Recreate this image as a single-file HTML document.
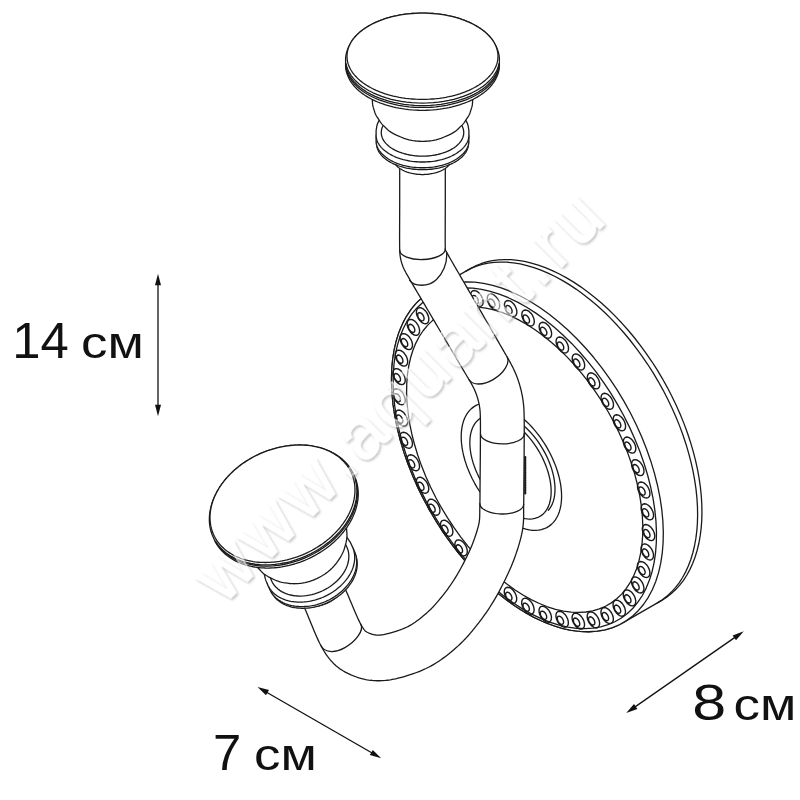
<!DOCTYPE html>
<html><head><meta charset="utf-8"><title>hook</title>
<style>
html,body{margin:0;padding:0;background:#fff;}
svg{display:block}
.dig{font-family:"Liberation Sans",sans-serif;font-size:50.8px;fill:#111;}
.unit{font-family:"Liberation Sans",sans-serif;font-size:45.2px;fill:#111;}
.wm{font-family:"Liberation Sans",sans-serif;font-size:72px;}
path{stroke-linecap:round;stroke-linejoin:round}
</style></head><body>
<svg width="800" height="800" viewBox="0 0 800 800">
<rect width="800" height="800" fill="#fff"/>
<path d="M470.27,268.66 L475.46,265.97 L480.88,263.74 L486.55,261.98 L492.43,260.7 L498.51,259.89 L504.77,259.56 L511.21,259.71 L517.79,260.34 L524.51,261.44 L531.34,263.02 L538.27,265.08 L545.27,267.59 L552.33,270.56 L559.42,273.98 L566.54,277.84 L573.65,282.14 L580.74,286.84 L587.79,291.96 L594.79,297.46 L601.7,303.34 L608.52,309.58 L615.21,316.16 L621.78,323.07 L628.19,330.28 L634.43,337.77 L640.48,345.54 L646.33,353.54 L651.96,361.77 L657.36,370.2 L662.5,378.8 L667.38,387.56 L671.98,396.44 L676.29,405.43 L680.3,414.5 L683.99,423.62 L687.37,432.77 L690.41,441.93 L693.1,451.07 L695.45,460.16 L697.45,469.18 L699.08,478.11 L700.36,486.92 L701.26,495.58 L701.79,504.08 L701.95,512.38 L701.74,520.48 L701.15,528.33 L700.19,535.93 L698.87,543.25 L697.18,550.27 L695.14,556.98 L692.74,563.35 L689.99,569.37 L686.9,575.01 L683.48,580.28 L679.74,585.14 L675.69,589.59 L671.33,593.61 L666.69,597.2 L661.77,600.34 L623.15,622.64 L623.15,622.64 L617.97,625.33 L612.54,627.56 L606.88,629.32 L601,630.6 L594.92,631.41 L588.65,631.74 L582.22,631.59 L575.63,630.96 L568.92,629.86 L562.08,628.27 L555.16,626.22 L548.16,623.71 L541.1,620.74 L534,617.32 L526.89,613.46 L519.77,609.16 L512.68,604.46 L505.63,599.34 L498.64,593.84 L491.72,587.96 L484.91,581.72 L478.21,575.14 L471.65,568.23 L465.23,561.02 L458.99,553.53 L452.94,545.76 L447.09,537.76 L441.46,529.53 L436.07,521.1 L430.92,512.5 L426.05,503.74 L421.44,494.86 L417.13,485.87 L413.13,476.8 L409.43,467.68 L406.06,458.53 L403.02,449.37 L400.32,440.23 L397.97,431.14 L395.97,422.12 L394.34,413.19 L393.07,404.38 L392.17,395.72 L391.64,387.22 L391.48,378.92 L391.69,370.82 L392.27,362.97 L393.23,355.37 L394.55,348.05 L396.24,341.03 L398.29,334.32 L400.69,327.95 L403.44,321.93 L406.52,316.29 L409.94,311.02 L413.68,306.16 L417.74,301.71 L422.09,297.69 L426.73,294.1 L431.65,290.96Z" fill="#fff" stroke="#1a1a1a" stroke-width="1.3" />
<path d="M465.94,271.16 L471.12,268.47 L476.55,266.24 L482.22,264.48 L488.1,263.2 L494.18,262.39 L500.44,262.06 L506.88,262.21 L513.46,262.84 L520.18,263.94 L527.01,265.52 L533.94,267.58 L540.94,270.09 L548,273.06 L555.09,276.48 L562.21,280.34 L569.32,284.64 L576.41,289.34 L583.46,294.46 L590.46,299.96 L597.37,305.84 L604.19,312.08 L610.88,318.66 L617.45,325.57 L623.86,332.78 L630.1,340.27 L636.15,348.04 L642,356.04 L647.63,364.27 L653.03,372.7 L658.17,381.3 L663.05,390.06 L667.65,398.94 L671.96,407.93 L675.97,417 L679.66,426.12 L683.04,435.27 L686.08,444.43 L688.77,453.57 L691.12,462.66 L693.12,471.68 L694.75,480.61 L696.03,489.42 L696.93,498.08 L697.46,506.58 L697.62,514.88 L697.41,522.98 L696.82,530.83 L695.86,538.43 L694.54,545.75 L692.85,552.77 L690.81,559.48 L688.41,565.85 L685.66,571.87 L682.57,577.51 L679.15,582.78 L675.41,587.64 L671.36,592.09 L667,596.11 L662.36,599.7 L657.44,602.84" fill="none" stroke="#1a1a1a" stroke-width="1.3" />
<path d="M623.88,401.1 L630.32,412.8 L636.26,424.72 L641.67,436.8 L646.53,448.97 L650.81,461.18 L654.48,473.37 L657.53,485.48 L659.96,497.45 L661.73,509.22 L662.85,520.73 L663.31,531.94 L663.11,542.78 L662.25,553.19 L660.73,563.14 L658.56,572.58 L655.75,581.44 L652.32,589.7 L648.28,597.31 L643.65,604.24 L638.45,610.45 L632.71,615.91 L626.46,620.6 L619.72,624.49 L612.54,627.56 L604.94,629.8 L596.97,631.19 L588.65,631.74 L580.04,631.43 L571.17,630.28 L562.08,628.27 L552.83,625.44 L543.46,621.78 L534,617.32 L524.52,612.07 L515.04,606.07 L505.63,599.34 L496.32,591.92 L487.17,583.84 L478.21,575.14 L469.49,565.86 L461.05,556.06 L452.94,545.76 L445.19,535.04 L437.84,523.93 L430.92,512.5 L424.48,500.8 L418.54,488.88 L413.13,476.8 L408.27,464.63 L403.99,452.42 L400.32,440.23 L397.27,428.12 L394.84,416.15 L393.07,404.38 L391.95,392.87 L391.49,381.66 L391.69,370.82 L392.55,360.41 L394.07,350.46 L396.24,341.03 L399.05,332.16 L402.48,323.9 L406.52,316.29 L411.15,309.36 L416.35,303.15 L422.09,297.69 L428.34,293 L435.08,289.11 L442.26,286.04 L449.86,283.8 L457.83,282.41 L466.15,281.86 L474.76,282.17 L483.63,283.32 L492.72,285.32 L501.97,288.16 L511.34,291.82 L520.8,296.28 L530.28,301.53 L539.76,307.53 L549.17,314.26 L558.48,321.68 L567.63,329.76 L576.59,338.46 L585.31,347.74 L593.75,357.54 L601.86,367.84 L609.61,378.56 L616.96,389.67 L623.88,401.1Z" fill="#fff" stroke="#1a1a1a" stroke-width="1.3" />
<path d="M617.64,404.6 L623.93,416.02 L629.73,427.64 L635.03,439.41 L639.79,451.27 L643.98,463.16 L647.6,475.03 L650.62,486.82 L653.03,498.47 L654.81,509.92 L655.95,521.13 L656.46,532.02 L656.33,542.56 L655.56,552.68 L654.15,562.34 L652.11,571.5 L649.44,580.1 L646.18,588.11 L642.32,595.49 L637.89,602.2 L632.9,608.21 L627.39,613.48 L621.38,618 L614.9,621.75 L607.98,624.69 L600.66,626.82 L592.97,628.14 L584.94,628.62 L576.62,628.27 L568.05,627.1 L559.27,625.1 L550.32,622.29 L541.24,618.68 L532.09,614.29 L522.9,609.13 L513.72,603.25 L504.59,596.65 L495.56,589.38 L486.68,581.47 L477.98,572.97 L469.51,563.9 L461.3,554.31 L453.41,544.26 L445.86,533.79 L438.7,522.95 L431.96,511.8 L425.67,500.38 L419.87,488.76 L414.57,476.99 L409.81,465.13 L405.62,453.24 L402,441.37 L398.98,429.58 L396.57,417.93 L394.79,406.48 L393.65,395.27 L393.14,384.38 L393.27,373.84 L394.04,363.72 L395.45,354.06 L397.49,344.9 L400.16,336.3 L403.42,328.29 L407.28,320.91 L411.71,314.2 L416.7,308.19 L422.21,302.92 L428.22,298.4 L434.7,294.65 L441.62,291.71 L448.94,289.58 L456.63,288.26 L464.66,287.78 L472.98,288.13 L481.55,289.3 L490.33,291.3 L499.28,294.11 L508.36,297.72 L517.51,302.11 L526.7,307.27 L535.88,313.15 L545.01,319.75 L554.04,327.02 L562.92,334.93 L571.62,343.43 L580.09,352.5 L588.3,362.09 L596.19,372.14 L603.74,382.61 L610.9,393.45 L617.64,404.6Z" fill="none" stroke="#1a1a1a" stroke-width="1.3" />
<path d="M608.01,411.5 L613.65,421.74 L618.86,432.16 L623.6,442.71 L627.87,453.35 L631.63,464.01 L634.87,474.66 L637.58,485.23 L639.73,495.68 L641.33,505.95 L642.35,516 L642.81,525.77 L642.68,535.21 L641.99,544.29 L640.72,552.96 L638.89,561.17 L636.5,568.89 L633.56,576.08 L630.1,582.7 L626.12,588.71 L621.64,594.1 L616.7,598.84 L611.31,602.89 L605.49,606.25 L599.28,608.89 L592.71,610.81 L585.81,611.99 L578.61,612.42 L571.14,612.12 L563.45,611.06 L555.57,609.28 L547.54,606.76 L539.4,603.52 L531.19,599.59 L522.95,594.97 L514.71,589.69 L506.53,583.78 L498.43,577.26 L490.46,570.17 L482.66,562.54 L475.06,554.41 L467.7,545.82 L460.62,536.81 L453.85,527.42 L447.43,517.7 L441.39,507.7 L435.75,497.46 L430.54,487.04 L425.8,476.49 L421.53,465.85 L417.77,455.19 L414.53,444.54 L411.82,433.97 L409.67,423.52 L408.07,413.25 L407.05,403.2 L406.59,393.43 L406.72,383.99 L407.41,374.91 L408.68,366.24 L410.51,358.03 L412.9,350.31 L415.84,343.12 L419.3,336.5 L423.28,330.49 L427.76,325.1 L432.7,320.36 L438.09,316.31 L443.91,312.95 L450.12,310.31 L456.69,308.39 L463.59,307.21 L470.79,306.78 L478.26,307.08 L485.95,308.14 L493.83,309.93 L501.86,312.44 L510,315.68 L518.21,319.61 L526.45,324.23 L534.69,329.51 L542.87,335.42 L550.97,341.94 L558.94,349.03 L566.74,356.66 L574.34,364.79 L581.7,373.38 L588.78,382.39 L595.55,391.78 L601.97,401.5 L608.01,411.5Z" fill="none" stroke="#1a1a1a" stroke-width="1.3" />
<path d="M623.8,420.25 L624.94,422.73 L625.54,425.22 L625.53,427.47 L624.92,429.27 L623.76,430.43 L622.18,430.85 L620.32,430.48 L618.36,429.36 L616.51,427.6 L614.93,425.37 L613.79,422.89 L613.19,420.41 L613.2,418.15 L613.81,416.36 L614.96,415.19 L616.55,414.77 L618.41,415.14 L620.36,416.26 L622.22,418.02Z M619.9,422.5 L620.48,423.77 L620.79,425.05 L620.79,426.2 L620.47,427.12 L619.88,427.71 L619.07,427.92 L618.12,427.74 L617.12,427.16 L616.17,426.26 L615.37,425.12 L614.78,423.85 L614.48,422.58 L614.48,421.43 L614.79,420.51 L615.38,419.92 L616.19,419.7 L617.14,419.89 L618.14,420.46 L619.09,421.36Z M634.03,442.52 L635.17,445 L635.77,447.49 L635.76,449.74 L635.15,451.53 L634,452.7 L632.41,453.12 L630.55,452.75 L628.6,451.63 L626.74,449.87 L625.16,447.64 L624.02,445.16 L623.43,442.67 L623.43,440.42 L624.04,438.62 L625.2,437.46 L626.78,437.04 L628.64,437.41 L630.6,438.53 L632.45,440.29Z M630.13,444.77 L630.72,446.04 L631.02,447.31 L631.02,448.46 L630.71,449.38 L630.12,449.97 L629.31,450.19 L628.35,450 L627.35,449.43 L626.41,448.53 L625.6,447.39 L625.01,446.12 L624.71,444.84 L624.71,443.69 L625.03,442.77 L625.62,442.18 L626.43,441.97 L627.38,442.15 L628.38,442.73 L629.33,443.63Z M642.2,465.06 L643.35,467.54 L643.94,470.03 L643.93,472.28 L643.32,474.08 L642.17,475.24 L640.58,475.66 L638.72,475.29 L636.77,474.17 L634.91,472.41 L633.34,470.18 L632.19,467.7 L631.6,465.21 L631.6,462.96 L632.21,461.16 L633.37,460 L634.95,459.58 L636.82,459.95 L638.77,461.07 L640.63,462.83Z M638.3,467.31 L638.89,468.58 L639.19,469.85 L639.19,471 L638.88,471.92 L638.29,472.52 L637.48,472.73 L636.52,472.54 L635.53,471.97 L634.58,471.07 L633.77,469.93 L633.19,468.66 L632.88,467.39 L632.88,466.24 L633.2,465.32 L633.79,464.72 L634.6,464.51 L635.55,464.7 L636.55,465.27 L637.5,466.17Z M648.15,487.45 L649.29,489.93 L649.89,492.42 L649.88,494.67 L649.27,496.46 L648.12,497.63 L646.53,498.05 L644.67,497.68 L642.72,496.56 L640.86,494.8 L639.29,492.57 L638.14,490.09 L637.55,487.6 L637.55,485.35 L638.16,483.55 L639.32,482.39 L640.9,481.97 L642.76,482.34 L644.72,483.46 L646.58,485.22Z M644.25,489.7 L644.84,490.97 L645.14,492.24 L645.14,493.39 L644.83,494.31 L644.24,494.9 L643.43,495.12 L642.47,494.93 L641.48,494.36 L640.53,493.46 L639.72,492.32 L639.14,491.05 L638.83,489.78 L638.83,488.62 L639.15,487.71 L639.74,487.11 L640.55,486.9 L641.5,487.09 L642.5,487.66 L643.45,488.56Z M651.76,509.24 L652.91,511.72 L653.5,514.21 L653.5,516.46 L652.89,518.26 L651.73,519.42 L650.15,519.84 L648.28,519.47 L646.33,518.35 L644.47,516.59 L642.9,514.36 L641.75,511.88 L641.16,509.39 L641.17,507.14 L641.78,505.34 L642.93,504.18 L644.52,503.76 L646.38,504.13 L648.33,505.25 L650.19,507.01Z M647.87,511.49 L648.45,512.76 L648.76,514.03 L648.75,515.19 L648.44,516.1 L647.85,516.7 L647.04,516.91 L646.09,516.72 L645.09,516.15 L644.14,515.25 L643.33,514.11 L642.75,512.84 L642.44,511.57 L642.45,510.42 L642.76,509.5 L643.35,508.9 L644.16,508.69 L645.11,508.88 L646.11,509.45 L647.06,510.35Z M652.97,530.02 L654.11,532.5 L654.71,534.99 L654.7,537.24 L654.09,539.04 L652.93,540.2 L651.35,540.62 L649.49,540.25 L647.53,539.13 L645.68,537.37 L644.1,535.14 L642.96,532.66 L642.36,530.17 L642.37,527.92 L642.98,526.12 L644.13,524.96 L645.72,524.54 L647.58,524.91 L649.54,526.03 L651.39,527.79Z M649.07,532.27 L649.65,533.54 L649.96,534.81 L649.96,535.96 L649.64,536.88 L649.05,537.48 L648.24,537.69 L647.29,537.5 L646.29,536.93 L645.34,536.03 L644.54,534.89 L643.95,533.62 L643.65,532.35 L643.65,531.2 L643.96,530.28 L644.55,529.68 L645.36,529.47 L646.32,529.66 L647.31,530.23 L648.26,531.13Z M651.74,549.38 L652.88,551.86 L653.48,554.34 L653.47,556.6 L652.86,558.39 L651.71,559.56 L650.12,559.97 L648.26,559.6 L646.31,558.49 L644.45,556.72 L642.87,554.49 L641.73,552.01 L641.13,549.53 L641.14,547.27 L641.75,545.48 L642.91,544.31 L644.49,543.9 L646.35,544.26 L648.31,545.38 L650.16,547.15Z M647.84,551.63 L648.43,552.89 L648.73,554.17 L648.73,555.32 L648.42,556.24 L647.83,556.83 L647.02,557.05 L646.06,556.86 L645.06,556.28 L644.11,555.38 L643.31,554.24 L642.72,552.98 L642.42,551.7 L642.42,550.55 L642.74,549.63 L643.33,549.04 L644.14,548.82 L645.09,549.01 L646.09,549.59 L647.04,550.49Z M648.11,566.93 L649.25,569.41 L649.85,571.9 L649.84,574.15 L649.23,575.95 L648.07,577.11 L646.49,577.53 L644.63,577.16 L642.67,576.04 L640.82,574.28 L639.24,572.05 L638.1,569.57 L637.5,567.08 L637.51,564.83 L638.12,563.04 L639.27,561.87 L640.86,561.45 L642.72,561.82 L644.67,562.94 L646.53,564.7Z M644.21,569.18 L644.79,570.45 L645.1,571.72 L645.09,572.88 L644.78,573.79 L644.19,574.39 L643.38,574.6 L642.43,574.41 L641.43,573.84 L640.48,572.94 L639.67,571.8 L639.09,570.53 L638.78,569.26 L638.79,568.11 L639.1,567.19 L639.69,566.6 L640.5,566.38 L641.45,566.57 L642.45,567.14 L643.4,568.04Z M642.14,582.35 L643.28,584.83 L643.88,587.32 L643.87,589.57 L643.26,591.37 L642.1,592.53 L640.52,592.95 L638.66,592.58 L636.7,591.46 L634.85,589.7 L633.27,587.47 L632.13,584.99 L631.53,582.5 L631.54,580.25 L632.15,578.45 L633.3,577.29 L634.89,576.87 L636.75,577.24 L638.7,578.36 L640.56,580.12Z M638.24,584.6 L638.82,585.87 L639.13,587.14 L639.12,588.29 L638.81,589.21 L638.22,589.81 L637.41,590.02 L636.46,589.83 L635.46,589.26 L634.51,588.36 L633.7,587.22 L633.12,585.95 L632.81,584.68 L632.82,583.53 L633.13,582.61 L633.72,582.01 L634.53,581.8 L635.48,581.99 L636.48,582.56 L637.43,583.46Z M633.94,595.33 L635.09,597.81 L635.68,600.3 L635.68,602.55 L635.07,604.35 L633.91,605.51 L632.33,605.93 L630.46,605.56 L628.51,604.44 L626.65,602.68 L625.08,600.45 L623.93,597.97 L623.34,595.48 L623.35,593.23 L623.96,591.43 L625.11,590.27 L626.7,589.85 L628.56,590.22 L630.51,591.34 L632.37,593.1Z M630.05,597.58 L630.63,598.85 L630.94,600.12 L630.93,601.27 L630.62,602.19 L630.03,602.79 L629.22,603 L628.27,602.81 L627.27,602.24 L626.32,601.34 L625.51,600.2 L624.93,598.93 L624.62,597.66 L624.63,596.5 L624.94,595.59 L625.53,594.99 L626.34,594.78 L627.29,594.97 L628.29,595.54 L629.24,596.44Z M623.69,605.61 L624.83,608.09 L625.43,610.58 L625.42,612.83 L624.81,614.63 L623.66,615.79 L622.07,616.21 L620.21,615.84 L618.26,614.72 L616.4,612.96 L614.83,610.73 L613.68,608.25 L613.09,605.76 L613.09,603.51 L613.7,601.72 L614.86,600.55 L616.44,600.13 L618.3,600.5 L620.26,601.62 L622.12,603.38Z M619.79,607.86 L620.38,609.13 L620.68,610.41 L620.68,611.56 L620.37,612.48 L619.78,613.07 L618.97,613.28 L618.01,613.1 L617.01,612.52 L616.07,611.62 L615.26,610.48 L614.68,609.21 L614.37,607.94 L614.37,606.79 L614.69,605.87 L615.28,605.28 L616.09,605.06 L617.04,605.25 L618.04,605.82 L618.99,606.72Z M611.58,613.01 L612.72,615.49 L613.32,617.97 L613.31,620.23 L612.7,622.02 L611.54,623.19 L609.96,623.6 L608.1,623.24 L606.14,622.12 L604.29,620.36 L602.71,618.13 L601.57,615.64 L600.97,613.16 L600.98,610.9 L601.59,609.11 L602.74,607.94 L604.33,607.53 L606.19,607.9 L608.14,609.02 L610,610.78Z M607.68,615.26 L608.26,616.53 L608.57,617.8 L608.57,618.95 L608.25,619.87 L607.66,620.46 L606.85,620.68 L605.9,620.49 L604.9,619.92 L603.95,619.01 L603.15,617.87 L602.56,616.61 L602.26,615.33 L602.26,614.18 L602.57,613.26 L603.16,612.67 L603.97,612.45 L604.92,612.64 L605.92,613.22 L606.87,614.12Z M597.84,617.36 L598.98,619.84 L599.58,622.33 L599.57,624.58 L598.96,626.38 L597.81,627.54 L596.22,627.96 L594.36,627.59 L592.4,626.47 L590.55,624.71 L588.97,622.48 L587.83,620 L587.23,617.51 L587.24,615.26 L587.85,613.46 L589.01,612.3 L590.59,611.88 L592.45,612.25 L594.41,613.37 L596.26,615.13Z M593.94,619.61 L594.52,620.88 L594.83,622.15 L594.83,623.3 L594.51,624.22 L593.92,624.82 L593.11,625.03 L592.16,624.84 L591.16,624.27 L590.21,623.37 L589.41,622.23 L588.82,620.96 L588.52,619.69 L588.52,618.54 L588.83,617.62 L589.42,617.02 L590.23,616.81 L591.19,617 L592.18,617.57 L593.13,618.47Z M582.74,618.6 L583.88,621.08 L584.48,623.56 L584.47,625.82 L583.86,627.61 L582.71,628.78 L581.12,629.19 L579.26,628.83 L577.31,627.71 L575.45,625.95 L573.87,623.72 L572.73,621.23 L572.13,618.75 L572.14,616.49 L572.75,614.7 L573.91,613.53 L575.49,613.12 L577.35,613.49 L579.31,614.61 L581.16,616.37Z M578.84,620.85 L579.43,622.12 L579.73,623.39 L579.73,624.54 L579.42,625.46 L578.83,626.05 L578.01,626.27 L577.06,626.08 L576.06,625.51 L575.11,624.6 L574.31,623.46 L573.72,622.2 L573.42,620.92 L573.42,619.77 L573.73,618.85 L574.33,618.26 L575.14,618.04 L576.09,618.23 L577.09,618.81 L578.04,619.71Z M566.58,616.68 L567.72,619.17 L568.32,621.65 L568.31,623.91 L567.7,625.7 L566.55,626.87 L564.96,627.28 L563.1,626.91 L561.15,625.79 L559.29,624.03 L557.71,621.8 L556.57,619.32 L555.97,616.84 L555.98,614.58 L556.59,612.79 L557.75,611.62 L559.33,611.21 L561.19,611.57 L563.15,612.69 L565,614.46Z M562.68,618.94 L563.26,620.2 L563.57,621.48 L563.57,622.63 L563.25,623.55 L562.66,624.14 L561.85,624.36 L560.9,624.17 L559.9,623.59 L558.95,622.69 L558.15,621.55 L557.56,620.29 L557.26,619.01 L557.26,617.86 L557.57,616.94 L558.16,616.35 L558.97,616.13 L559.93,616.32 L560.92,616.89 L561.87,617.8Z M549.67,611.67 L550.81,614.15 L551.41,616.63 L551.4,618.89 L550.79,620.68 L549.63,621.85 L548.05,622.26 L546.19,621.9 L544.23,620.78 L542.38,619.01 L540.8,616.78 L539.66,614.3 L539.06,611.82 L539.07,609.56 L539.68,607.77 L540.83,606.6 L542.42,606.19 L544.28,606.55 L546.23,607.67 L548.09,609.44Z M545.77,613.92 L546.35,615.18 L546.66,616.46 L546.65,617.61 L546.34,618.53 L545.75,619.12 L544.94,619.34 L543.99,619.15 L542.99,618.57 L542.04,617.67 L541.23,616.53 L540.65,615.27 L540.34,613.99 L540.35,612.84 L540.66,611.92 L541.25,611.33 L542.06,611.11 L543.01,611.3 L544.01,611.88 L544.96,612.78Z M532.33,603.64 L533.48,606.12 L534.07,608.6 L534.07,610.86 L533.46,612.65 L532.3,613.82 L530.72,614.23 L528.86,613.86 L526.9,612.75 L525.04,610.98 L523.47,608.75 L522.33,606.27 L521.73,603.79 L521.74,601.53 L522.35,599.74 L523.5,598.57 L525.09,598.16 L526.95,598.52 L528.9,599.64 L530.76,601.41Z M528.44,605.89 L529.02,607.15 L529.33,608.43 L529.32,609.58 L529.01,610.5 L528.42,611.09 L527.61,611.31 L526.66,611.12 L525.66,610.54 L524.71,609.64 L523.9,608.5 L523.32,607.24 L523.01,605.96 L523.02,604.81 L523.33,603.89 L523.92,603.3 L524.73,603.08 L525.68,603.27 L526.68,603.85 L527.63,604.75Z M514.92,592.75 L516.06,595.23 L516.66,597.72 L516.65,599.97 L516.04,601.77 L514.89,602.93 L513.3,603.35 L511.44,602.98 L509.49,601.86 L507.63,600.1 L506.05,597.87 L504.91,595.39 L504.31,592.9 L504.32,590.65 L504.93,588.85 L506.09,587.69 L507.67,587.27 L509.53,587.64 L511.49,588.76 L513.34,590.52Z M511.02,595 L511.6,596.27 L511.91,597.54 L511.91,598.69 L511.59,599.61 L511,600.21 L510.19,600.42 L509.24,600.23 L508.24,599.66 L507.29,598.76 L506.49,597.62 L505.9,596.35 L505.6,595.08 L505.6,593.93 L505.91,593.01 L506.5,592.41 L507.31,592.2 L508.27,592.39 L509.27,592.96 L510.21,593.86Z M497.76,579.22 L498.9,581.7 L499.5,584.19 L499.49,586.44 L498.88,588.24 L497.73,589.4 L496.14,589.82 L494.28,589.45 L492.33,588.33 L490.47,586.57 L488.89,584.34 L487.75,581.86 L487.15,579.38 L487.16,577.12 L487.77,575.33 L488.93,574.16 L490.51,573.74 L492.37,574.11 L494.33,575.23 L496.18,576.99Z M493.86,581.48 L494.44,582.74 L494.75,584.02 L494.75,585.17 L494.43,586.09 L493.84,586.68 L493.03,586.89 L492.08,586.71 L491.08,586.13 L490.13,585.23 L489.33,584.09 L488.74,582.82 L488.44,581.55 L488.44,580.4 L488.75,579.48 L489.34,578.89 L490.15,578.67 L491.11,578.86 L492.11,579.43 L493.05,580.33Z M481.19,563.32 L482.33,565.8 L482.93,568.29 L482.92,570.54 L482.31,572.34 L481.16,573.5 L479.57,573.92 L477.71,573.55 L475.76,572.43 L473.9,570.67 L472.32,568.44 L471.18,565.96 L470.58,563.47 L470.59,561.22 L471.2,559.42 L472.36,558.26 L473.94,557.84 L475.8,558.21 L477.76,559.33 L479.61,561.09Z M477.29,565.57 L477.87,566.84 L478.18,568.11 L478.18,569.26 L477.86,570.18 L477.27,570.78 L476.46,570.99 L475.51,570.8 L474.51,570.23 L473.56,569.33 L472.76,568.19 L472.17,566.92 L471.87,565.65 L471.87,564.49 L472.18,563.58 L472.77,562.98 L473.58,562.77 L474.54,562.96 L475.53,563.53 L476.48,564.43Z M465.53,545.34 L466.67,547.82 L467.27,550.31 L467.26,552.56 L466.65,554.36 L465.5,555.52 L463.91,555.94 L462.05,555.57 L460.1,554.45 L458.24,552.69 L456.66,550.46 L455.52,547.98 L454.92,545.49 L454.93,543.24 L455.54,541.45 L456.7,540.28 L458.28,539.86 L460.14,540.23 L462.1,541.35 L463.95,543.11Z M461.63,547.59 L462.22,548.86 L462.52,550.13 L462.52,551.29 L462.21,552.2 L461.62,552.8 L460.8,553.01 L459.85,552.82 L458.85,552.25 L457.9,551.35 L457.1,550.21 L456.51,548.94 L456.21,547.67 L456.21,546.52 L456.53,545.6 L457.12,545.01 L457.93,544.79 L458.88,544.98 L459.88,545.55 L460.83,546.45Z M451.09,525.65 L452.23,528.13 L452.83,530.62 L452.82,532.87 L452.21,534.66 L451.06,535.83 L449.47,536.25 L447.61,535.88 L445.66,534.76 L443.8,533 L442.22,530.77 L441.08,528.29 L440.48,525.8 L440.49,523.55 L441.1,521.75 L442.26,520.59 L443.84,520.17 L445.7,520.54 L447.66,521.66 L449.51,523.42Z M447.19,527.9 L447.78,529.17 L448.08,530.44 L448.08,531.59 L447.76,532.51 L447.17,533.1 L446.36,533.32 L445.41,533.13 L444.41,532.56 L443.46,531.66 L442.66,530.52 L442.07,529.25 L441.77,527.98 L441.77,526.82 L442.08,525.91 L442.67,525.31 L443.49,525.1 L444.44,525.29 L445.44,525.86 L446.39,526.76Z M438.15,504.62 L439.29,507.1 L439.89,509.58 L439.88,511.84 L439.27,513.63 L438.11,514.8 L436.53,515.21 L434.67,514.85 L432.71,513.73 L430.86,511.97 L429.28,509.74 L428.14,507.26 L427.54,504.77 L427.55,502.51 L428.16,500.72 L429.31,499.55 L430.9,499.14 L432.76,499.51 L434.71,500.63 L436.57,502.39Z M434.25,506.87 L434.83,508.14 L435.14,509.41 L435.13,510.56 L434.82,511.48 L434.23,512.07 L433.42,512.29 L432.47,512.1 L431.47,511.53 L430.52,510.63 L429.71,509.48 L429.13,508.22 L428.83,506.94 L428.83,505.79 L429.14,504.87 L429.73,504.28 L430.54,504.07 L431.49,504.25 L432.49,504.83 L433.44,505.73Z M426.95,482.66 L428.1,485.14 L428.69,487.63 L428.69,489.88 L428.08,491.67 L426.92,492.84 L425.34,493.26 L423.47,492.89 L421.52,491.77 L419.66,490.01 L418.09,487.78 L416.94,485.3 L416.35,482.81 L416.36,480.56 L416.97,478.76 L418.12,477.6 L419.71,477.18 L421.57,477.55 L423.52,478.67 L425.38,480.43Z M423.06,484.91 L423.64,486.18 L423.95,487.45 L423.94,488.6 L423.63,489.52 L423.04,490.11 L422.23,490.33 L421.28,490.14 L420.28,489.57 L419.33,488.67 L418.52,487.53 L417.94,486.26 L417.63,484.99 L417.64,483.83 L417.95,482.92 L418.54,482.32 L419.35,482.11 L420.3,482.3 L421.3,482.87 L422.25,483.77Z M417.73,460.2 L418.87,462.68 L419.47,465.17 L419.46,467.42 L418.85,469.22 L417.7,470.38 L416.11,470.8 L414.25,470.43 L412.3,469.31 L410.44,467.55 L408.86,465.32 L407.72,462.84 L407.12,460.35 L407.13,458.1 L407.74,456.3 L408.9,455.14 L410.48,454.72 L412.34,455.09 L414.3,456.21 L416.15,457.97Z M413.83,462.45 L414.42,463.72 L414.72,464.99 L414.72,466.14 L414.4,467.06 L413.81,467.66 L413,467.87 L412.05,467.68 L411.05,467.11 L410.1,466.21 L409.3,465.07 L408.71,463.8 L408.41,462.53 L408.41,461.38 L408.72,460.46 L409.31,459.86 L410.12,459.65 L411.08,459.84 L412.08,460.41 L413.02,461.31Z M410.65,437.68 L411.79,440.16 L412.39,442.65 L412.38,444.9 L411.77,446.7 L410.62,447.86 L409.03,448.28 L407.17,447.91 L405.22,446.79 L403.36,445.03 L401.78,442.8 L400.64,440.32 L400.05,437.83 L400.05,435.58 L400.66,433.78 L401.82,432.62 L403.4,432.2 L405.26,432.57 L407.22,433.69 L409.07,435.45Z M406.75,439.93 L407.34,441.2 L407.64,442.47 L407.64,443.62 L407.33,444.54 L406.74,445.14 L405.93,445.35 L404.97,445.16 L403.97,444.59 L403.03,443.69 L402.22,442.55 L401.63,441.28 L401.33,440.01 L401.33,438.86 L401.65,437.94 L402.24,437.34 L403.05,437.13 L404,437.32 L405,437.89 L405.95,438.79Z M405.86,415.53 L407,418.02 L407.6,420.5 L407.59,422.76 L406.98,424.55 L405.83,425.72 L404.24,426.13 L402.38,425.76 L400.43,424.64 L398.57,422.88 L396.99,420.65 L395.85,418.17 L395.25,415.69 L395.26,413.43 L395.87,411.64 L397.03,410.47 L398.61,410.06 L400.47,410.42 L402.43,411.54 L404.28,413.3Z M401.96,417.79 L402.55,419.05 L402.85,420.33 L402.85,421.48 L402.53,422.4 L401.94,422.99 L401.13,423.21 L400.18,423.02 L399.18,422.44 L398.23,421.54 L397.43,420.4 L396.84,419.13 L396.54,417.86 L396.54,416.71 L396.85,415.79 L397.44,415.2 L398.25,414.98 L399.21,415.17 L400.21,415.74 L401.15,416.65Z M403.45,394.2 L404.59,396.68 L405.18,399.17 L405.18,401.42 L404.57,403.21 L403.41,404.38 L401.83,404.8 L399.97,404.43 L398.01,403.31 L396.16,401.55 L394.58,399.32 L393.44,396.84 L392.84,394.35 L392.85,392.1 L393.46,390.3 L394.61,389.14 L396.2,388.72 L398.06,389.09 L400.01,390.21 L401.87,391.97Z M399.55,396.45 L400.13,397.72 L400.44,398.99 L400.43,400.14 L400.12,401.06 L399.53,401.65 L398.72,401.87 L397.77,401.68 L396.77,401.11 L395.82,400.21 L395.01,399.07 L394.43,397.8 L394.12,396.52 L394.13,395.37 L394.44,394.45 L395.03,393.86 L395.84,393.65 L396.79,393.83 L397.79,394.41 L398.74,395.31Z M403.46,374.08 L404.6,376.56 L405.2,379.05 L405.19,381.3 L404.58,383.1 L403.42,384.26 L401.84,384.68 L399.98,384.31 L398.02,383.19 L396.17,381.43 L394.59,379.2 L393.45,376.72 L392.85,374.23 L392.86,371.98 L393.47,370.18 L394.62,369.02 L396.21,368.6 L398.07,368.97 L400.02,370.09 L401.88,371.85Z M399.56,376.33 L400.14,377.6 L400.45,378.87 L400.44,380.02 L400.13,380.94 L399.54,381.54 L398.73,381.75 L397.78,381.56 L396.78,380.99 L395.83,380.09 L395.02,378.95 L394.44,377.68 L394.13,376.41 L394.14,375.26 L394.45,374.34 L395.04,373.74 L395.85,373.53 L396.8,373.72 L397.8,374.29 L398.75,375.19Z M405.89,355.58 L407.04,358.06 L407.63,360.55 L407.63,362.8 L407.01,364.6 L405.86,365.76 L404.27,366.18 L402.41,365.81 L400.46,364.69 L398.6,362.93 L397.03,360.7 L395.88,358.22 L395.29,355.73 L395.29,353.48 L395.91,351.68 L397.06,350.52 L398.65,350.1 L400.51,350.47 L402.46,351.59 L404.32,353.35Z M402,357.83 L402.58,359.1 L402.88,360.37 L402.88,361.52 L402.57,362.44 L401.98,363.04 L401.17,363.25 L400.22,363.06 L399.22,362.49 L398.27,361.59 L397.46,360.45 L396.88,359.18 L396.57,357.91 L396.58,356.76 L396.89,355.84 L397.48,355.24 L398.29,355.03 L399.24,355.22 L400.24,355.79 L401.19,356.69Z M410.71,339.05 L411.85,341.53 L412.45,344.02 L412.44,346.27 L411.83,348.07 L410.67,349.23 L409.09,349.65 L407.23,349.28 L405.27,348.16 L403.42,346.4 L401.84,344.17 L400.7,341.69 L400.1,339.2 L400.11,336.95 L400.72,335.15 L401.87,333.99 L403.46,333.57 L405.32,333.94 L407.28,335.06 L409.13,336.82Z M406.81,341.3 L407.39,342.57 L407.7,343.84 L407.7,344.99 L407.38,345.91 L406.79,346.51 L405.98,346.72 L405.03,346.53 L404.03,345.96 L403.08,345.06 L402.28,343.92 L401.69,342.65 L401.39,341.38 L401.39,340.23 L401.7,339.31 L402.29,338.71 L403.1,338.5 L404.05,338.69 L405.05,339.26 L406,340.16Z M417.81,324.82 L418.95,327.3 L419.55,329.79 L419.54,332.04 L418.93,333.84 L417.77,335 L416.19,335.42 L414.33,335.05 L412.37,333.93 L410.52,332.17 L408.94,329.94 L407.8,327.46 L407.2,324.97 L407.21,322.72 L407.82,320.92 L408.97,319.76 L410.56,319.34 L412.42,319.71 L414.37,320.83 L416.23,322.59Z M413.91,327.07 L414.49,328.34 L414.8,329.61 L414.79,330.76 L414.48,331.68 L413.89,332.28 L413.08,332.49 L412.13,332.3 L411.13,331.73 L410.18,330.83 L409.37,329.69 L408.79,328.42 L408.48,327.15 L408.49,326 L408.8,325.08 L409.39,324.48 L410.2,324.27 L411.15,324.46 L412.15,325.03 L413.1,325.93Z M427.05,313.16 L428.19,315.64 L428.79,318.13 L428.78,320.38 L428.17,322.18 L427.02,323.34 L425.43,323.76 L423.57,323.39 L421.62,322.27 L419.76,320.51 L418.18,318.28 L417.04,315.8 L416.44,313.31 L416.45,311.06 L417.06,309.26 L418.22,308.1 L419.8,307.68 L421.66,308.05 L423.62,309.17 L425.47,310.93Z M423.15,315.41 L423.74,316.68 L424.04,317.95 L424.04,319.1 L423.73,320.02 L423.14,320.62 L422.32,320.83 L421.37,320.64 L420.37,320.07 L419.42,319.17 L418.62,318.03 L418.03,316.76 L417.73,315.49 L417.73,314.34 L418.05,313.42 L418.64,312.82 L419.45,312.61 L420.4,312.8 L421.4,313.37 L422.35,314.27Z M438.26,304.3 L439.4,306.78 L440,309.27 L439.99,311.52 L439.38,313.32 L438.23,314.48 L436.64,314.9 L434.78,314.53 L432.83,313.41 L430.97,311.65 L429.39,309.42 L428.25,306.94 L427.66,304.45 L427.66,302.2 L428.27,300.4 L429.43,299.24 L431.01,298.82 L432.87,299.19 L434.83,300.31 L436.68,302.07Z M434.36,306.55 L434.95,307.82 L435.25,309.09 L435.25,310.24 L434.94,311.16 L434.35,311.76 L433.54,311.97 L432.58,311.78 L431.58,311.21 L430.64,310.31 L429.83,309.17 L429.24,307.9 L428.94,306.63 L428.94,305.48 L429.26,304.56 L429.85,303.96 L430.66,303.75 L431.61,303.94 L432.61,304.51 L433.56,305.41Z M451.22,298.41 L452.36,300.89 L452.96,303.38 L452.95,305.63 L452.34,307.43 L451.19,308.59 L449.6,309.01 L447.74,308.64 L445.79,307.52 L443.93,305.76 L442.35,303.53 L441.21,301.05 L440.61,298.56 L440.62,296.31 L441.23,294.51 L442.39,293.35 L443.97,292.93 L445.83,293.3 L447.79,294.42 L449.64,296.18Z M447.32,300.66 L447.91,301.93 L448.21,303.2 L448.21,304.35 L447.89,305.27 L447.3,305.87 L446.49,306.08 L445.54,305.89 L444.54,305.32 L443.59,304.42 L442.79,303.28 L442.2,302.01 L441.9,300.74 L441.9,299.59 L442.21,298.67 L442.8,298.07 L443.61,297.86 L444.57,298.05 L445.57,298.62 L446.52,299.52Z M465.67,295.61 L466.82,298.09 L467.41,300.58 L467.41,302.83 L466.79,304.63 L465.64,305.79 L464.05,306.21 L462.19,305.84 L460.24,304.72 L458.38,302.96 L456.81,300.73 L455.66,298.25 L455.07,295.76 L455.07,293.51 L455.69,291.71 L456.84,290.55 L458.43,290.13 L460.29,290.5 L462.24,291.62 L464.1,293.38Z M461.78,297.86 L462.36,299.13 L462.66,300.4 L462.66,301.55 L462.35,302.47 L461.76,303.07 L460.95,303.28 L460,303.09 L459,302.52 L458.05,301.62 L457.24,300.48 L456.66,299.21 L456.35,297.94 L456.36,296.78 L456.67,295.87 L457.26,295.27 L458.07,295.06 L459.02,295.25 L460.02,295.82 L460.97,296.72Z M481.34,295.95 L482.48,298.43 L483.08,300.92 L483.07,303.17 L482.46,304.96 L481.31,306.13 L479.72,306.55 L477.86,306.18 L475.91,305.06 L474.05,303.3 L472.47,301.07 L471.33,298.59 L470.74,296.1 L470.74,293.85 L471.35,292.05 L472.51,290.89 L474.09,290.47 L475.95,290.84 L477.91,291.96 L479.76,293.72Z M477.44,298.2 L478.03,299.47 L478.33,300.74 L478.33,301.89 L478.02,302.81 L477.43,303.4 L476.62,303.62 L475.66,303.43 L474.66,302.86 L473.72,301.96 L472.91,300.82 L472.32,299.55 L472.02,298.28 L472.02,297.12 L472.34,296.21 L472.93,295.61 L473.74,295.4 L474.69,295.59 L475.69,296.16 L476.64,297.06Z M497.92,299.42 L499.06,301.9 L499.66,304.39 L499.65,306.64 L499.04,308.44 L497.89,309.6 L496.3,310.02 L494.44,309.65 L492.49,308.53 L490.63,306.77 L489.05,304.54 L487.91,302.06 L487.31,299.57 L487.32,297.32 L487.93,295.52 L489.09,294.36 L490.67,293.94 L492.53,294.31 L494.49,295.43 L496.34,297.19Z M494.02,301.67 L494.6,302.94 L494.91,304.21 L494.91,305.36 L494.59,306.28 L494,306.88 L493.19,307.09 L492.24,306.9 L491.24,306.33 L490.29,305.43 L489.49,304.29 L488.9,303.02 L488.6,301.75 L488.6,300.6 L488.91,299.68 L489.5,299.08 L490.31,298.87 L491.27,299.06 L492.26,299.63 L493.21,300.53Z M515.08,305.96 L516.23,308.44 L516.82,310.93 L516.81,313.18 L516.2,314.98 L515.05,316.14 L513.46,316.56 L511.6,316.19 L509.65,315.07 L507.79,313.31 L506.22,311.08 L505.07,308.6 L504.48,306.11 L504.48,303.86 L505.09,302.07 L506.25,300.9 L507.83,300.48 L509.7,300.85 L511.65,301.97 L513.51,303.73Z M511.18,308.21 L511.77,309.48 L512.07,310.75 L512.07,311.91 L511.76,312.82 L511.17,313.42 L510.36,313.63 L509.41,313.44 L508.41,312.87 L507.46,311.97 L506.65,310.83 L506.07,309.56 L505.76,308.29 L505.76,307.14 L506.08,306.22 L506.67,305.63 L507.48,305.41 L508.43,305.6 L509.43,306.17 L510.38,307.07Z M532.5,315.44 L533.64,317.92 L534.24,320.41 L534.23,322.66 L533.62,324.46 L532.47,325.62 L530.88,326.04 L529.02,325.67 L527.07,324.55 L525.21,322.79 L523.63,320.56 L522.49,318.08 L521.89,315.59 L521.9,313.34 L522.51,311.55 L523.67,310.38 L525.25,309.96 L527.11,310.33 L529.07,311.45 L530.92,313.21Z M528.6,317.69 L529.19,318.96 L529.49,320.23 L529.49,321.39 L529.17,322.3 L528.58,322.9 L527.77,323.11 L526.82,322.92 L525.82,322.35 L524.87,321.45 L524.07,320.31 L523.48,319.04 L523.18,317.77 L523.18,316.62 L523.49,315.7 L524.08,315.11 L524.89,314.89 L525.85,315.08 L526.85,315.65 L527.79,316.55Z M549.83,327.68 L550.97,330.16 L551.57,332.65 L551.56,334.9 L550.95,336.69 L549.8,337.86 L548.21,338.28 L546.35,337.91 L544.4,336.79 L542.54,335.03 L540.96,332.8 L539.82,330.32 L539.22,327.83 L539.23,325.58 L539.84,323.78 L541,322.62 L542.58,322.2 L544.44,322.57 L546.4,323.69 L548.25,325.45Z M545.93,329.93 L546.52,331.2 L546.82,332.47 L546.82,333.62 L546.5,334.54 L545.91,335.13 L545.1,335.35 L544.15,335.16 L543.15,334.59 L542.2,333.69 L541.4,332.55 L540.81,331.28 L540.51,330.01 L540.51,328.85 L540.82,327.94 L541.41,327.34 L542.22,327.13 L543.18,327.32 L544.18,327.89 L545.12,328.79Z M566.74,342.43 L567.88,344.91 L568.47,347.4 L568.47,349.65 L567.86,351.45 L566.7,352.61 L565.12,353.03 L563.26,352.66 L561.3,351.54 L559.45,349.78 L557.87,347.55 L556.73,345.07 L556.13,342.58 L556.14,340.33 L556.75,338.53 L557.9,337.37 L559.49,336.95 L561.35,337.32 L563.3,338.44 L565.16,340.2Z M562.84,344.68 L563.42,345.95 L563.73,347.22 L563.72,348.37 L563.41,349.29 L562.82,349.89 L562.01,350.1 L561.06,349.91 L560.06,349.34 L559.11,348.44 L558.3,347.3 L557.72,346.03 L557.41,344.76 L557.42,343.61 L557.73,342.69 L558.32,342.09 L559.13,341.88 L560.08,342.07 L561.08,342.64 L562.03,343.54Z M582.89,359.41 L584.03,361.89 L584.63,364.38 L584.62,366.63 L584.01,368.43 L582.86,369.59 L581.27,370.01 L579.41,369.64 L577.46,368.52 L575.6,366.76 L574.02,364.53 L572.88,362.05 L572.28,359.56 L572.29,357.31 L572.9,355.51 L574.06,354.35 L575.64,353.93 L577.5,354.3 L579.46,355.42 L581.31,357.18Z M578.99,361.66 L579.57,362.93 L579.88,364.2 L579.88,365.36 L579.56,366.27 L578.97,366.87 L578.16,367.08 L577.21,366.89 L576.21,366.32 L575.26,365.42 L574.46,364.28 L573.87,363.01 L573.57,361.74 L573.57,360.59 L573.88,359.67 L574.47,359.07 L575.28,358.86 L576.24,359.05 L577.23,359.62 L578.18,360.52Z M597.97,378.29 L599.12,380.77 L599.71,383.26 L599.71,385.51 L599.1,387.31 L597.94,388.47 L596.36,388.89 L594.5,388.52 L592.54,387.4 L590.68,385.64 L589.11,383.41 L587.97,380.93 L587.37,378.44 L587.38,376.19 L587.99,374.4 L589.14,373.23 L590.73,372.81 L592.59,373.18 L594.54,374.3 L596.4,376.06Z M594.08,380.54 L594.66,381.81 L594.97,383.09 L594.96,384.24 L594.65,385.16 L594.06,385.75 L593.25,385.96 L592.3,385.78 L591.3,385.2 L590.35,384.3 L589.54,383.16 L588.96,381.89 L588.65,380.62 L588.66,379.47 L588.97,378.55 L589.56,377.96 L590.37,377.74 L591.32,377.93 L592.32,378.5 L593.27,379.4Z M611.7,398.71 L612.84,401.19 L613.44,403.68 L613.43,405.93 L612.82,407.72 L611.67,408.89 L610.08,409.31 L608.22,408.94 L606.27,407.82 L604.41,406.06 L602.83,403.83 L601.69,401.35 L601.09,398.86 L601.1,396.61 L601.71,394.81 L602.87,393.65 L604.45,393.23 L606.31,393.6 L608.27,394.72 L610.12,396.48Z M607.8,400.96 L608.39,402.23 L608.69,403.5 L608.69,404.65 L608.38,405.57 L607.78,406.16 L606.97,406.38 L606.02,406.19 L605.02,405.62 L604.07,404.72 L603.27,403.58 L602.68,402.31 L602.38,401.03 L602.38,399.88 L602.69,398.96 L603.28,398.37 L604.1,398.16 L605.05,398.34 L606.05,398.92 L607,399.82Z" fill="none" stroke="#1a1a1a" stroke-width="1.4" />
<path d="M545.79,445.68 L548.25,449.94 L550.54,454.28 L552.64,458.69 L554.53,463.13 L556.22,467.59 L557.69,472.04 L558.93,476.46 L559.94,480.84 L560.72,485.15 L561.25,489.36 L561.54,493.47 L561.59,497.44 L561.39,501.27 L560.95,504.92 L560.27,508.39 L559.35,511.65 L558.19,514.69 L556.81,517.5 L555.2,520.06 L553.39,522.36 L551.37,524.38 L549.15,526.13 L546.75,527.58 L544.18,528.73 L541.45,529.59 L538.57,530.13 L535.56,530.37 L532.43,530.29 L529.2,529.91 L525.88,529.21 L522.49,528.21 L519.05,526.91 L515.57,525.31 L512.07,523.43 L508.57,521.27 L505.08,518.84 L501.62,516.16 L498.21,513.24 L494.86,510.09 L491.6,506.72 L488.43,503.16 L485.37,499.43 L482.44,495.53 L479.65,491.49 L477.01,487.32 L474.55,483.06 L472.26,478.72 L470.16,474.31 L468.27,469.87 L466.58,465.41 L465.11,460.96 L463.87,456.54 L462.86,452.16 L462.08,447.85 L461.55,443.64 L461.26,439.53 L461.21,435.56 L461.41,431.73 L461.85,428.08 L462.53,424.61 L463.45,421.35 L464.61,418.31 L465.99,415.5 L467.6,412.94 L469.41,410.64 L471.43,408.62 L473.65,406.87 L476.05,405.42 L478.62,404.27 L481.35,403.41 L484.23,402.87 L487.24,402.63 L490.37,402.71 L493.6,403.09 L496.92,403.79 L500.31,404.79 L503.75,406.09 L507.23,407.69 L510.73,409.57 L514.23,411.73 L517.72,414.16 L521.18,416.84 L524.59,419.76 L527.94,422.91 L531.2,426.28 L534.37,429.84 L537.43,433.57 L540.36,437.47 L543.15,441.51 L545.79,445.68Z" fill="#fff" stroke="#1a1a1a" stroke-width="1.3" />
<path d="M482.39,417.28 L484.4,415.81 L486.59,414.63 L488.93,413.75 L491.43,413.16 L494.06,412.87 L496.81,412.88 L499.66,413.2 L502.59,413.82 L505.59,414.73 L508.65,415.94 L511.74,417.43 L514.84,419.19 L517.94,421.23 L521.02,423.51 L524.06,426.04 L527.04,428.79 L529.95,431.75 L532.77,434.91 L535.49,438.23 L538.07,441.72 L540.52,445.33 L542.82,449.06 L544.95,452.89 L546.91,456.78 L548.67,460.72 L550.24,464.68 L551.59,468.64 L552.73,472.58 L553.64,476.47 L554.33,480.3 L554.78,484.04 L555,487.66 L554.98,491.15 L554.72,494.49 L554.23,497.65 L553.5,500.62 L552.55,503.38 L551.37,505.92 L549.98,508.22 L548.38,510.26" fill="none" stroke="#1a1a1a" stroke-width="1.3" />
<path d="M538.33,450.31 L540.33,453.78 L542.18,457.32 L543.88,460.9 L545.42,464.51 L546.79,468.14 L547.98,471.76 L548.99,475.35 L549.81,478.91 L550.44,482.41 L550.88,485.83 L551.11,489.17 L551.15,492.39 L551,495.5 L550.64,498.46 L550.09,501.27 L549.35,503.92 L548.41,506.38 L547.3,508.66 L546,510.73 L544.53,512.59 L542.9,514.23 L541.1,515.63 L539.16,516.81 L537.08,517.74 L534.87,518.42 L532.54,518.85 L530.1,519.03 L527.57,518.96 L524.95,518.63 L522.26,518.06 L519.52,517.23 L516.73,516.17 L513.91,514.86 L511.08,513.32 L508.24,511.55 L505.41,509.57 L502.61,507.38 L499.85,505 L497.14,502.43 L494.49,499.69 L491.92,496.78 L489.44,493.74 L487.07,490.56 L484.81,487.27 L482.67,483.89 L480.67,480.42 L478.82,476.88 L477.12,473.3 L475.58,469.69 L474.21,466.06 L473.02,462.44 L472.01,458.85 L471.19,455.29 L470.56,451.79 L470.12,448.37 L469.89,445.03 L469.85,441.81 L470,438.7 L470.36,435.74 L470.91,432.93 L471.65,430.28 L472.59,427.82 L473.7,425.54 L475,423.47 L476.47,421.61 L478.1,419.97 L479.9,418.57 L481.84,417.39 L483.92,416.46 L486.13,415.78 L488.46,415.35 L490.9,415.17 L493.43,415.24 L496.05,415.57 L498.74,416.14 L501.48,416.97 L504.27,418.03 L507.09,419.34 L509.92,420.88 L512.76,422.65 L515.59,424.63 L518.39,426.82 L521.15,429.2 L523.86,431.77 L526.51,434.51 L529.08,437.42 L531.56,440.46 L533.93,443.64 L536.19,446.93 L538.33,450.31Z" fill="none" stroke="#1a1a1a" stroke-width="1.3" />
<path d="M445.3,150 L445.3,154.17 L445.3,158.34 L445.3,162.51 L445.3,166.68 L445.3,170.85 L445.3,175.02 L445.3,179.18 L445.3,183.35 L445.3,187.52 L445.3,191.68 L445.3,195.84 L445.3,200.01 L445.3,204.36 L445.28,209.01 L445.27,213.84 L445.25,218.76 L445.23,223.68 L445.21,228.47 L445.2,233.06 L445.19,237.32 L445.2,241.15 L445.22,244.44 L445.25,247.03 L445.29,248.82 L445.3,249.11 L445.31,249.43 L445.31,249.68 L445.32,249.84 L445.32,249.92 L445.32,249.92 L445.32,249.86 L445.31,249.77 L445.3,249.67 L445.29,249.6 L445.29,249.6 L445.29,249.66 L445.3,249.68 L445.3,249.69 L445.3,249.71 L445.3,249.72 L445.3,249.74 L445.31,249.75 L445.31,249.77 L445.31,249.79 L445.31,249.8 L445.32,249.81 L445.32,249.83 L445.32,249.83 L445.31,249.81 L445.3,249.79 L445.3,249.8 L445.31,249.82 L445.32,249.85 L445.33,249.89 L445.35,249.93 L445.37,249.98 L445.38,250.03 L445.4,250.08 L445.42,250.12 L445.44,250.16 L445.42,250.13 L445.39,250.06 L445.35,249.97 L445.3,249.88 L445.26,249.81 L445.25,249.78 L445.26,249.8 L445.3,249.87 L445.37,250.01 L445.48,250.21 L445.61,250.46 L445.75,250.72 L446.06,251.28 L446.43,251.96 L446.88,252.75 L447.38,253.65 L447.94,254.63 L448.54,255.69 L449.19,256.81 L449.86,257.99 L450.56,259.21 L451.28,260.46 L452.02,261.74 L452.76,263.03 L453.94,265.08 L455.2,267.27 L456.55,269.59 L457.96,272.02 L459.42,274.55 L460.93,277.15 L462.48,279.8 L464.04,282.49 L465.61,285.19 L467.18,287.9 L468.74,290.58 L470.28,293.22 L471.91,296.04 L473.58,298.91 L475.27,301.82 L476.98,304.77 L478.69,307.72 L480.41,310.69 L482.11,313.64 L483.81,316.58 L485.48,319.48 L487.13,322.33 L488.74,325.12 L490.31,327.84 L491.67,330.19 L493.05,332.59 L494.45,335.02 L495.85,337.44 L497.23,339.83 L498.58,342.18 L499.89,344.45 L501.15,346.62 L502.33,348.67 L503.42,350.56 L504.42,352.29 L505.3,353.82 L505.65,354.43 L505.98,354.98 L506.28,355.5 L506.57,356 L506.87,356.49 L507.16,356.99 L507.46,357.51 L507.78,358.06 L508.11,358.63 L508.45,359.23 L508.81,359.87 L509.17,360.52 L509.54,361.21 L509.93,361.92 L510.33,362.67 L510.75,363.45 L511.19,364.26 L511.63,365.1 L512.08,365.97 L512.54,366.87 L513,367.79 L513.46,368.74 L513.93,369.72 L514.38,370.72 L514.79,371.63 L515.19,372.54 L515.57,373.45 L515.95,374.37 L516.32,375.29 L516.68,376.21 L517.04,377.14 L517.39,378.07 L517.73,379.01 L518.06,379.94 L518.38,380.89 L518.69,381.83 L519,382.77 L519.29,383.72 L519.58,384.67 L519.85,385.61 L520.12,386.57 L520.38,387.52 L520.63,388.48 L520.88,389.44 L521.11,390.4 L521.34,391.36 L521.56,392.33 L521.76,393.3 L521.96,394.27 L522.16,395.24 L522.34,396.22 L522.51,397.2 L522.68,398.17 L522.83,399.15 L522.98,400.13 L523.12,401.11 L523.25,402.09 L523.37,403.08 L523.48,404.06 L523.58,405.04 L523.68,406.04 L523.76,407.02 L523.83,407.98 L523.9,408.93 L523.95,409.86 L523.99,410.78 L524.02,411.69 L524.05,412.6 L524.08,413.51 L524.1,414.45 L524.12,415.42 L524.14,416.48 L524.19,418.71 L524.22,421.17 L524.24,423.8 L524.25,426.57 L524.25,429.46 L524.24,432.44 L524.23,435.47 L524.21,438.51 L524.2,441.53 L524.18,444.49 L524.16,447.36 L524.15,450.1 L524.14,452.67 L524.12,455.25 L524.1,457.81 L524.08,460.36 L524.06,462.9 L524.04,465.43 L524.02,467.93 L523.99,470.43 L523.97,472.9 L523.94,475.35 L523.92,477.79 L523.9,480.19 L523.88,482.4 L523.87,484.62 L523.85,486.84 L523.84,489.07 L523.83,491.29 L523.82,493.51 L523.8,495.72 L523.78,497.92 L523.76,500.1 L523.73,502.27 L523.69,504.42 L523.64,506.49 L523.63,507.98 L523.62,509.46 L523.63,510.98 L523.63,512.58 L523.64,514.24 L523.63,515.98 L523.6,517.82 L523.54,519.74 L523.44,521.75 L523.28,523.86 L523.06,526.04 L522.76,528.3 L522.39,530.56 L521.98,532.77 L521.53,534.93 L521.04,537.06 L520.52,539.14 L519.98,541.19 L519.41,543.19 L518.83,545.15 L518.24,547.08 L517.65,548.97 L517.05,550.81 L516.44,552.64 L515.77,554.6 L515.08,556.56 L514.36,558.5 L513.63,560.42 L512.88,562.34 L512.11,564.24 L511.32,566.13 L510.51,568.02 L509.68,569.9 L508.84,571.78 L507.97,573.67 L507.09,575.57 L506.06,577.74 L504.99,579.97 L503.88,582.23 L502.73,584.51 L501.55,586.81 L500.34,589.12 L499.1,591.44 L497.84,593.76 L496.55,596.06 L495.23,598.36 L493.9,600.63 L492.54,602.86 L491.24,604.94 L489.93,607 L488.61,609.02 L487.26,611.03 L485.91,613.02 L484.54,614.98 L483.15,616.91 L481.75,618.83 L480.34,620.72 L478.92,622.58 L477.49,624.42 L476.07,626.22 L474.76,627.84 L473.46,629.45 L472.12,631.06 L470.76,632.69 L469.36,634.32 L467.92,635.96 L466.43,637.6 L464.89,639.26 L463.3,640.91 L461.64,642.57 L459.92,644.23 L458.16,645.88 L456.27,647.56 L454.33,649.26 L452.31,650.98 L450.23,652.71 L448.08,654.44 L445.86,656.16 L443.58,657.87 L441.24,659.56 L438.83,661.21 L436.35,662.82 L433.8,664.38 L431.18,665.88 L428.58,667.26 L425.99,668.53 L423.42,669.71 L420.86,670.8 L418.34,671.81 L415.85,672.75 L413.41,673.63 L411.02,674.44 L408.7,675.19 L406.45,675.89 L404.29,676.53 L402.22,677.11 L400.57,677.56 L398.92,677.99 L397.26,678.39 L395.58,678.78 L393.89,679.13 L392.18,679.46 L390.45,679.77 L388.69,680.03 L386.91,680.26 L385.11,680.45 L383.28,680.6 L381.46,680.69 L379.88,680.74 L378.31,680.75 L376.74,680.73 L375.17,680.67 L373.58,680.58 L372,680.44 L370.42,680.27 L368.84,680.06 L367.26,679.81 L365.69,679.52 L364.13,679.19 L362.56,678.82 L360.82,678.37 L359.1,677.87 L357.42,677.33 L355.77,676.75 L354.14,676.15 L352.54,675.51 L350.95,674.85 L349.39,674.15 L347.85,673.42 L346.33,672.65 L344.81,671.84 L343.35,671 L342.24,670.32 L341.17,669.64 L340.11,668.92 L339.04,668.15 L337.98,667.35 L336.95,666.52 L335.94,665.67 L334.97,664.79 L334.04,663.91 L333.16,663.03 L332.32,662.15 L331.49,661.25 L330.46,660.09 L329.45,658.87 L328.47,657.62 L327.53,656.37 L326.63,655.1 L325.76,653.82 L324.93,652.53 L324.12,651.23 L323.34,649.93 L322.58,648.6 L321.82,647.26 L321.01,645.77 L319.54,642.93 L318.08,639.89 L316.65,636.75 L315.23,633.51 L313.83,630.21 L312.45,626.87 L311.08,623.55 L309.76,620.29 L308.48,617.15 L307.27,614.18 L306.13,611.45 L305.09,609 L304.29,607.2 L303.5,605.42 L302.74,603.7 L302,602.03 L301.27,600.39 L300.55,598.78 L299.84,597.18 L299.13,595.59 L298.42,594 L297.7,592.4 L296.97,590.77 L296.24,589.11 L296.24,589.11 L337.16,570.89 L337.16,570.89 L337.89,572.53 L338.61,574.14 L339.32,575.74 L340.03,577.33 L340.75,578.92 L341.46,580.52 L342.19,582.15 L342.93,583.81 L343.68,585.51 L344.46,587.27 L345.26,589.08 L346.11,591 L347.36,593.83 L348.65,596.83 L349.96,599.94 L351.3,603.12 L352.64,606.32 L353.98,609.48 L355.3,612.55 L356.58,615.48 L357.8,618.18 L358.93,620.59 L359.93,622.61 L360.79,624.23 L361.29,625.1 L361.81,626 L362.28,626.8 L362.72,627.51 L363.11,628.13 L363.47,628.67 L363.8,629.13 L364.09,629.53 L364.36,629.88 L364.61,630.18 L364.85,630.46 L365.11,630.75 L365.32,630.97 L365.5,631.15 L365.63,631.27 L365.71,631.34 L365.76,631.38 L365.79,631.4 L365.81,631.41 L365.85,631.44 L365.93,631.48 L366.05,631.56 L366.24,631.68 L366.45,631.8 L366.81,632 L367.23,632.23 L367.76,632.49 L368.36,632.77 L369.01,633.05 L369.7,633.34 L370.4,633.61 L371.09,633.87 L371.76,634.09 L372.39,634.29 L372.95,634.45 L373.44,634.58 L373.93,634.69 L374.43,634.79 L374.91,634.87 L375.38,634.94 L375.84,635 L376.32,635.05 L376.8,635.09 L377.3,635.12 L377.82,635.13 L378.37,635.14 L378.95,635.13 L379.54,635.11 L380.19,635.07 L380.84,635.01 L381.52,634.94 L382.25,634.84 L383.03,634.72 L383.85,634.57 L384.73,634.39 L385.67,634.19 L386.66,633.96 L387.71,633.7 L388.81,633.41 L389.98,633.09 L391.62,632.63 L393.29,632.13 L395,631.61 L396.72,631.06 L398.45,630.49 L400.16,629.88 L401.84,629.25 L403.47,628.6 L405.05,627.94 L406.54,627.26 L407.94,626.59 L409.22,625.92 L410.6,625.13 L412.05,624.25 L413.55,623.28 L415.1,622.23 L416.68,621.1 L418.27,619.92 L419.88,618.68 L421.47,617.41 L423.06,616.1 L424.62,614.78 L426.16,613.44 L427.64,612.12 L428.81,611.07 L429.93,610.02 L431.02,608.95 L432.1,607.86 L433.17,606.75 L434.23,605.6 L435.3,604.41 L436.39,603.18 L437.49,601.9 L438.61,600.58 L439.76,599.2 L440.93,597.78 L442.13,596.31 L443.3,594.84 L444.47,593.35 L445.63,591.84 L446.78,590.31 L447.92,588.76 L449.04,587.19 L450.16,585.61 L451.26,584.01 L452.34,582.4 L453.41,580.77 L454.46,579.14 L455.54,577.41 L456.63,575.62 L457.72,573.77 L458.81,571.88 L459.89,569.96 L460.96,568.02 L462.02,566.06 L463.05,564.1 L464.06,562.15 L465.04,560.21 L465.99,558.31 L466.91,556.43 L467.69,554.81 L468.44,553.22 L469.16,551.66 L469.85,550.13 L470.52,548.62 L471.16,547.13 L471.78,545.66 L472.37,544.2 L472.95,542.75 L473.5,541.3 L474.03,539.84 L474.56,538.36 L475.09,536.8 L475.62,535.24 L476.12,533.71 L476.6,532.21 L477.05,530.75 L477.47,529.32 L477.86,527.93 L478.21,526.58 L478.53,525.28 L478.81,524.03 L479.05,522.83 L479.24,521.7 L479.38,520.78 L479.48,519.83 L479.57,518.83 L479.64,517.76 L479.69,516.6 L479.72,515.34 L479.75,513.98 L479.76,512.5 L479.77,510.92 L479.79,509.21 L479.81,507.39 L479.86,505.51 L479.9,503.55 L479.93,501.58 L479.96,499.56 L479.99,497.49 L480,495.38 L480.02,493.23 L480.03,491.05 L480.04,488.84 L480.05,486.61 L480.07,484.36 L480.08,482.09 L480.1,479.81 L480.12,477.37 L480.15,474.93 L480.17,472.47 L480.19,470 L480.22,467.51 L480.24,465.02 L480.26,462.52 L480.29,460.01 L480.31,457.49 L480.32,454.97 L480.34,452.44 L480.35,449.9 L480.36,447.13 L480.38,444.24 L480.4,441.27 L480.41,438.27 L480.43,435.27 L480.44,432.3 L480.45,429.41 L480.45,426.63 L480.44,424.01 L480.42,421.59 L480.4,419.43 L480.36,417.52 L480.33,416.56 L480.3,415.65 L480.27,414.83 L480.24,414.09 L480.21,413.42 L480.18,412.81 L480.15,412.25 L480.12,411.73 L480.08,411.22 L480.03,410.71 L479.98,410.19 L479.92,409.62 L479.85,409.02 L479.78,408.42 L479.7,407.82 L479.61,407.23 L479.52,406.63 L479.43,406.04 L479.33,405.45 L479.22,404.87 L479.11,404.28 L478.99,403.7 L478.87,403.12 L478.75,402.54 L478.62,401.97 L478.48,401.39 L478.34,400.82 L478.19,400.24 L478.04,399.67 L477.88,399.1 L477.72,398.53 L477.55,397.96 L477.38,397.39 L477.2,396.83 L477.02,396.26 L476.83,395.7 L476.64,395.14 L476.44,394.59 L476.24,394.03 L476.03,393.47 L475.81,392.91 L475.59,392.35 L475.37,391.8 L475.14,391.24 L474.9,390.68 L474.66,390.13 L474.41,389.57 L474.16,389.04 L473.94,388.56 L473.69,388.06 L473.43,387.53 L473.14,386.97 L472.84,386.39 L472.52,385.79 L472.18,385.17 L471.84,384.54 L471.49,383.9 L471.13,383.26 L470.76,382.61 L470.4,381.96 L470.16,381.53 L469.94,381.15 L469.73,380.79 L469.52,380.44 L469.3,380.07 L469.06,379.67 L468.8,379.23 L468.5,378.75 L468.18,378.21 L467.82,377.62 L467.43,376.96 L467,376.24 L466.1,374.72 L465.08,373 L463.96,371.12 L462.75,369.08 L461.47,366.93 L460.14,364.67 L458.76,362.35 L457.34,359.97 L455.92,357.56 L454.49,355.16 L453.08,352.77 L451.69,350.44 L450.09,347.74 L448.44,344.96 L446.76,342.13 L445.06,339.25 L443.33,336.34 L441.59,333.4 L439.84,330.46 L438.11,327.51 L436.38,324.58 L434.67,321.68 L432.98,318.82 L431.32,316.02 L429.78,313.4 L428.21,310.75 L426.62,308.06 L425.03,305.37 L423.45,302.69 L421.88,300.04 L420.34,297.44 L418.85,294.91 L417.4,292.46 L416.02,290.11 L414.71,287.88 L413.49,285.8 L412.74,284.52 L412,283.24 L411.26,281.99 L410.54,280.76 L409.84,279.55 L409.16,278.39 L408.51,277.27 L407.9,276.2 L407.31,275.18 L406.77,274.23 L406.26,273.32 L405.81,272.5 L405.66,272.24 L405.54,272.02 L405.42,271.79 L405.28,271.54 L405.12,271.25 L404.94,270.92 L404.75,270.54 L404.54,270.13 L404.33,269.7 L404.11,269.25 L403.91,268.8 L403.71,268.36 L403.52,267.92 L403.33,267.46 L403.14,267 L402.95,266.54 L402.77,266.06 L402.59,265.57 L402.41,265.08 L402.23,264.57 L402.05,264.05 L401.88,263.51 L401.71,262.96 L401.54,262.4 L401.39,261.87 L401.25,261.34 L401.11,260.81 L400.98,260.29 L400.86,259.76 L400.74,259.23 L400.63,258.69 L400.53,258.16 L400.43,257.63 L400.34,257.09 L400.25,256.55 L400.17,256.02 L400.11,255.55 L400.04,255.06 L399.98,254.53 L399.93,253.99 L399.88,253.44 L399.84,252.92 L399.81,252.43 L399.79,251.97 L399.77,251.55 L399.75,251.14 L399.73,250.73 L399.71,250.18 L399.65,247.79 L399.62,244.8 L399.6,241.29 L399.59,237.32 L399.6,232.97 L399.61,228.33 L399.63,223.5 L399.65,218.58 L399.67,213.67 L399.68,208.87 L399.7,204.28 L399.7,199.99 L399.7,195.84 L399.7,191.68 L399.7,187.52 L399.7,183.35 L399.7,179.18 L399.7,175.02 L399.7,170.85 L399.7,166.68 L399.7,162.51 L399.7,158.34 L399.7,154.17 L399.7,150Z" fill="#fff" stroke="none" stroke-width="0" />
<path d="M445.3,150 L445.3,154.17 L445.3,158.34 L445.3,162.51 L445.3,166.68 L445.3,170.85 L445.3,175.02 L445.3,179.18 L445.3,183.35 L445.3,187.52 L445.3,191.68 L445.3,195.84 L445.3,200.01 L445.3,204.36 L445.28,209.01 L445.27,213.84 L445.25,218.76 L445.23,223.68 L445.21,228.47 L445.2,233.06 L445.19,237.32 L445.2,241.15 L445.22,244.44 L445.25,247.03 L445.29,248.82 L445.3,249.11 L445.31,249.43 L445.31,249.68 L445.32,249.84 L445.32,249.92 L445.32,249.92 L445.32,249.86 L445.31,249.77 L445.3,249.67 L445.29,249.6 L445.29,249.6 L445.29,249.66 L445.3,249.68 L445.3,249.69 L445.3,249.71 L445.3,249.72 L445.3,249.74 L445.31,249.75 L445.31,249.77 L445.31,249.79 L445.31,249.8 L445.32,249.81 L445.32,249.83 L445.32,249.83 L445.31,249.81 L445.3,249.79 L445.3,249.8 L445.31,249.82 L445.32,249.85 L445.33,249.89 L445.35,249.93 L445.37,249.98 L445.38,250.03 L445.4,250.08 L445.42,250.12 L445.44,250.16 L445.42,250.13 L445.39,250.06 L445.35,249.97 L445.3,249.88 L445.26,249.81 L445.25,249.78 L445.26,249.8 L445.3,249.87 L445.37,250.01 L445.48,250.21 L445.61,250.46 L445.75,250.72 L446.06,251.28 L446.43,251.96 L446.88,252.75 L447.38,253.65 L447.94,254.63 L448.54,255.69 L449.19,256.81 L449.86,257.99 L450.56,259.21 L451.28,260.46 L452.02,261.74 L452.76,263.03 L453.94,265.08 L455.2,267.27 L456.55,269.59 L457.96,272.02 L459.42,274.55 L460.93,277.15 L462.48,279.8 L464.04,282.49 L465.61,285.19 L467.18,287.9 L468.74,290.58 L470.28,293.22 L471.91,296.04 L473.58,298.91 L475.27,301.82 L476.98,304.77 L478.69,307.72 L480.41,310.69 L482.11,313.64 L483.81,316.58 L485.48,319.48 L487.13,322.33 L488.74,325.12 L490.31,327.84 L491.67,330.19 L493.05,332.59 L494.45,335.02 L495.85,337.44 L497.23,339.83 L498.58,342.18 L499.89,344.45 L501.15,346.62 L502.33,348.67 L503.42,350.56 L504.42,352.29 L505.3,353.82 L505.65,354.43 L505.98,354.98 L506.28,355.5 L506.57,356 L506.87,356.49 L507.16,356.99 L507.46,357.51 L507.78,358.06 L508.11,358.63 L508.45,359.23 L508.81,359.87 L509.17,360.52 L509.54,361.21 L509.93,361.92 L510.33,362.67 L510.75,363.45 L511.19,364.26 L511.63,365.1 L512.08,365.97 L512.54,366.87 L513,367.79 L513.46,368.74 L513.93,369.72 L514.38,370.72 L514.79,371.63 L515.19,372.54 L515.57,373.45 L515.95,374.37 L516.32,375.29 L516.68,376.21 L517.04,377.14 L517.39,378.07 L517.73,379.01 L518.06,379.94 L518.38,380.89 L518.69,381.83 L519,382.77 L519.29,383.72 L519.58,384.67 L519.85,385.61 L520.12,386.57 L520.38,387.52 L520.63,388.48 L520.88,389.44 L521.11,390.4 L521.34,391.36 L521.56,392.33 L521.76,393.3 L521.96,394.27 L522.16,395.24 L522.34,396.22 L522.51,397.2 L522.68,398.17 L522.83,399.15 L522.98,400.13 L523.12,401.11 L523.25,402.09 L523.37,403.08 L523.48,404.06 L523.58,405.04 L523.68,406.04 L523.76,407.02 L523.83,407.98 L523.9,408.93 L523.95,409.86 L523.99,410.78 L524.02,411.69 L524.05,412.6 L524.08,413.51 L524.1,414.45 L524.12,415.42 L524.14,416.48 L524.19,418.71 L524.22,421.17 L524.24,423.8 L524.25,426.57 L524.25,429.46 L524.24,432.44 L524.23,435.47 L524.21,438.51 L524.2,441.53 L524.18,444.49 L524.16,447.36 L524.15,450.1 L524.14,452.67 L524.12,455.25 L524.1,457.81 L524.08,460.36 L524.06,462.9 L524.04,465.43 L524.02,467.93 L523.99,470.43 L523.97,472.9 L523.94,475.35 L523.92,477.79 L523.9,480.19 L523.88,482.4 L523.87,484.62 L523.85,486.84 L523.84,489.07 L523.83,491.29 L523.82,493.51 L523.8,495.72 L523.78,497.92 L523.76,500.1 L523.73,502.27 L523.69,504.42 L523.64,506.49 L523.63,507.98 L523.62,509.46 L523.63,510.98 L523.63,512.58 L523.64,514.24 L523.63,515.98 L523.6,517.82 L523.54,519.74 L523.44,521.75 L523.28,523.86 L523.06,526.04 L522.76,528.3 L522.39,530.56 L521.98,532.77 L521.53,534.93 L521.04,537.06 L520.52,539.14 L519.98,541.19 L519.41,543.19 L518.83,545.15 L518.24,547.08 L517.65,548.97 L517.05,550.81 L516.44,552.64 L515.77,554.6 L515.08,556.56 L514.36,558.5 L513.63,560.42 L512.88,562.34 L512.11,564.24 L511.32,566.13 L510.51,568.02 L509.68,569.9 L508.84,571.78 L507.97,573.67 L507.09,575.57 L506.06,577.74 L504.99,579.97 L503.88,582.23 L502.73,584.51 L501.55,586.81 L500.34,589.12 L499.1,591.44 L497.84,593.76 L496.55,596.06 L495.23,598.36 L493.9,600.63 L492.54,602.86 L491.24,604.94 L489.93,607 L488.61,609.02 L487.26,611.03 L485.91,613.02 L484.54,614.98 L483.15,616.91 L481.75,618.83 L480.34,620.72 L478.92,622.58 L477.49,624.42 L476.07,626.22 L474.76,627.84 L473.46,629.45 L472.12,631.06 L470.76,632.69 L469.36,634.32 L467.92,635.96 L466.43,637.6 L464.89,639.26 L463.3,640.91 L461.64,642.57 L459.92,644.23 L458.16,645.88 L456.27,647.56 L454.33,649.26 L452.31,650.98 L450.23,652.71 L448.08,654.44 L445.86,656.16 L443.58,657.87 L441.24,659.56 L438.83,661.21 L436.35,662.82 L433.8,664.38 L431.18,665.88 L428.58,667.26 L425.99,668.53 L423.42,669.71 L420.86,670.8 L418.34,671.81 L415.85,672.75 L413.41,673.63 L411.02,674.44 L408.7,675.19 L406.45,675.89 L404.29,676.53 L402.22,677.11 L400.57,677.56 L398.92,677.99 L397.26,678.39 L395.58,678.78 L393.89,679.13 L392.18,679.46 L390.45,679.77 L388.69,680.03 L386.91,680.26 L385.11,680.45 L383.28,680.6 L381.46,680.69 L379.88,680.74 L378.31,680.75 L376.74,680.73 L375.17,680.67 L373.58,680.58 L372,680.44 L370.42,680.27 L368.84,680.06 L367.26,679.81 L365.69,679.52 L364.13,679.19 L362.56,678.82 L360.82,678.37 L359.1,677.87 L357.42,677.33 L355.77,676.75 L354.14,676.15 L352.54,675.51 L350.95,674.85 L349.39,674.15 L347.85,673.42 L346.33,672.65 L344.81,671.84 L343.35,671 L342.24,670.32 L341.17,669.64 L340.11,668.92 L339.04,668.15 L337.98,667.35 L336.95,666.52 L335.94,665.67 L334.97,664.79 L334.04,663.91 L333.16,663.03 L332.32,662.15 L331.49,661.25 L330.46,660.09 L329.45,658.87 L328.47,657.62 L327.53,656.37 L326.63,655.1 L325.76,653.82 L324.93,652.53 L324.12,651.23 L323.34,649.93 L322.58,648.6 L321.82,647.26 L321.01,645.77 L319.54,642.93 L318.08,639.89 L316.65,636.75 L315.23,633.51 L313.83,630.21 L312.45,626.87 L311.08,623.55 L309.76,620.29 L308.48,617.15 L307.27,614.18 L306.13,611.45 L305.09,609 L304.29,607.2 L303.5,605.42 L302.74,603.7 L302,602.03 L301.27,600.39 L300.55,598.78 L299.84,597.18 L299.13,595.59 L298.42,594 L297.7,592.4 L296.97,590.77 L296.24,589.11 L296.24,589.11" fill="none" stroke="#1a1a1a" stroke-width="1.3" stroke-linejoin="round"/>
<path d="M399.7,150 L399.7,154.17 L399.7,158.34 L399.7,162.51 L399.7,166.68 L399.7,170.85 L399.7,175.02 L399.7,179.18 L399.7,183.35 L399.7,187.52 L399.7,191.68 L399.7,195.84 L399.7,199.99 L399.7,204.28 L399.68,208.87 L399.67,213.67 L399.65,218.58 L399.63,223.5 L399.61,228.33 L399.6,232.97 L399.59,237.32 L399.6,241.29 L399.62,244.8 L399.65,247.79 L399.71,250.18 L399.73,250.73 L399.75,251.14 L399.77,251.55 L399.79,251.97 L399.81,252.43 L399.84,252.92 L399.88,253.44 L399.93,253.99 L399.98,254.53 L400.04,255.06 L400.11,255.55 L400.17,256.02 L400.25,256.55 L400.34,257.09 L400.43,257.63 L400.53,258.16 L400.63,258.69 L400.74,259.23 L400.86,259.76 L400.98,260.29 L401.11,260.81 L401.25,261.34 L401.39,261.87 L401.54,262.4 L401.71,262.96 L401.88,263.51 L402.05,264.05 L402.23,264.57 L402.41,265.08 L402.59,265.57 L402.77,266.06 L402.95,266.54 L403.14,267 L403.33,267.46 L403.52,267.92 L403.71,268.36 L403.91,268.8 L404.11,269.25 L404.33,269.7 L404.54,270.13 L404.75,270.54 L404.94,270.92 L405.12,271.25 L405.28,271.54 L405.42,271.79 L405.54,272.02 L405.66,272.24 L405.81,272.5 L406.26,273.32 L406.77,274.23 L407.31,275.18 L407.9,276.2 L408.51,277.27 L409.16,278.39 L409.84,279.55 L410.54,280.76 L411.26,281.99 L412,283.24 L412.74,284.52 L413.49,285.8 L414.71,287.88 L416.02,290.11 L417.4,292.46 L418.85,294.91 L420.34,297.44 L421.88,300.04 L423.45,302.69 L425.03,305.37 L426.62,308.06 L428.21,310.75 L429.78,313.4 L431.32,316.02 L432.98,318.82 L434.67,321.68 L436.38,324.58 L438.11,327.51 L439.84,330.46 L441.59,333.4 L443.33,336.34 L445.06,339.25 L446.76,342.13 L448.44,344.96 L450.09,347.74 L451.69,350.44 L453.08,352.77 L454.49,355.16 L455.92,357.56 L457.34,359.97 L458.76,362.35 L460.14,364.67 L461.47,366.93 L462.75,369.08 L463.96,371.12 L465.08,373 L466.1,374.72 L467,376.24 L467.43,376.96 L467.82,377.62 L468.18,378.21 L468.5,378.75 L468.8,379.23 L469.06,379.67 L469.3,380.07 L469.52,380.44 L469.73,380.79 L469.94,381.15 L470.16,381.53 L470.4,381.96 L470.76,382.61 L471.13,383.26 L471.49,383.9 L471.84,384.54 L472.18,385.17 L472.52,385.79 L472.84,386.39 L473.14,386.97 L473.43,387.53 L473.69,388.06 L473.94,388.56 L474.16,389.04 L474.41,389.57 L474.66,390.13 L474.9,390.68 L475.14,391.24 L475.37,391.8 L475.59,392.35 L475.81,392.91 L476.03,393.47 L476.24,394.03 L476.44,394.59 L476.64,395.14 L476.83,395.7 L477.02,396.26 L477.2,396.83 L477.38,397.39 L477.55,397.96 L477.72,398.53 L477.88,399.1 L478.04,399.67 L478.19,400.24 L478.34,400.82 L478.48,401.39 L478.62,401.97 L478.75,402.54 L478.87,403.12 L478.99,403.7 L479.11,404.28 L479.22,404.87 L479.33,405.45 L479.43,406.04 L479.52,406.63 L479.61,407.23 L479.7,407.82 L479.78,408.42 L479.85,409.02 L479.92,409.62 L479.98,410.19 L480.03,410.71 L480.08,411.22 L480.12,411.73 L480.15,412.25 L480.18,412.81 L480.21,413.42 L480.24,414.09 L480.27,414.83 L480.3,415.65 L480.33,416.56 L480.36,417.52 L480.4,419.43 L480.42,421.59 L480.44,424.01 L480.45,426.63 L480.45,429.41 L480.44,432.3 L480.43,435.27 L480.41,438.27 L480.4,441.27 L480.38,444.24 L480.36,447.13 L480.35,449.9 L480.34,452.44 L480.32,454.97 L480.31,457.49 L480.29,460.01 L480.26,462.52 L480.24,465.02 L480.22,467.51 L480.19,470 L480.17,472.47 L480.15,474.93 L480.12,477.37 L480.1,479.81 L480.08,482.09 L480.07,484.36 L480.05,486.61 L480.04,488.84 L480.03,491.05 L480.02,493.23 L480,495.38 L479.99,497.49 L479.96,499.56 L479.93,501.58 L479.9,503.55 L479.86,505.51 L479.81,507.39 L479.79,509.21 L479.77,510.92 L479.76,512.5 L479.75,513.98 L479.72,515.34 L479.69,516.6 L479.64,517.76 L479.57,518.83 L479.48,519.83 L479.38,520.78 L479.24,521.7 L479.05,522.83 L478.81,524.03 L478.53,525.28 L478.21,526.58 L477.86,527.93 L477.47,529.32 L477.05,530.75 L476.6,532.21 L476.12,533.71 L475.62,535.24 L475.09,536.8 L474.56,538.36 L474.03,539.84 L473.5,541.3 L472.95,542.75 L472.37,544.2 L471.78,545.66 L471.16,547.13 L470.52,548.62 L469.85,550.13 L469.16,551.66 L468.44,553.22 L467.69,554.81 L466.91,556.43 L465.99,558.31 L465.04,560.21 L464.06,562.15 L463.05,564.1 L462.02,566.06 L460.96,568.02 L459.89,569.96 L458.81,571.88 L457.72,573.77 L456.63,575.62 L455.54,577.41 L454.46,579.14 L453.41,580.77 L452.34,582.4 L451.26,584.01 L450.16,585.61 L449.04,587.19 L447.92,588.76 L446.78,590.31 L445.63,591.84 L444.47,593.35 L443.3,594.84 L442.13,596.31 L440.93,597.78 L439.76,599.2 L438.61,600.58 L437.49,601.9 L436.39,603.18 L435.3,604.41 L434.23,605.6 L433.17,606.75 L432.1,607.86 L431.02,608.95 L429.93,610.02 L428.81,611.07 L427.64,612.12 L426.16,613.44 L424.62,614.78 L423.06,616.1 L421.47,617.41 L419.88,618.68 L418.27,619.92 L416.68,621.1 L415.1,622.23 L413.55,623.28 L412.05,624.25 L410.6,625.13 L409.22,625.92 L407.94,626.59 L406.54,627.26 L405.05,627.94 L403.47,628.6 L401.84,629.25 L400.16,629.88 L398.45,630.49 L396.72,631.06 L395,631.61 L393.29,632.13 L391.62,632.63 L389.98,633.09 L388.81,633.41 L387.71,633.7 L386.66,633.96 L385.67,634.19 L384.73,634.39 L383.85,634.57 L383.03,634.72 L382.25,634.84 L381.52,634.94 L380.84,635.01 L380.19,635.07 L379.54,635.11 L378.95,635.13 L378.37,635.14 L377.82,635.13 L377.3,635.12 L376.8,635.09 L376.32,635.05 L375.84,635 L375.38,634.94 L374.91,634.87 L374.43,634.79 L373.93,634.69 L373.44,634.58 L372.95,634.45 L372.39,634.29 L371.76,634.09 L371.09,633.87 L370.4,633.61 L369.7,633.34 L369.01,633.05 L368.36,632.77 L367.76,632.49 L367.23,632.23 L366.81,632 L366.45,631.8 L366.24,631.68 L366.05,631.56 L365.93,631.48 L365.85,631.44 L365.81,631.41 L365.79,631.4 L365.76,631.38 L365.71,631.34 L365.63,631.27 L365.5,631.15 L365.32,630.97 L365.11,630.75 L364.85,630.46 L364.61,630.18 L364.36,629.88 L364.09,629.53 L363.8,629.13 L363.47,628.67 L363.11,628.13 L362.72,627.51 L362.28,626.8 L361.81,626 L361.29,625.1 L360.79,624.23 L359.93,622.61 L358.93,620.59 L357.8,618.18 L356.58,615.48 L355.3,612.55 L353.98,609.48 L352.64,606.32 L351.3,603.12 L349.96,599.94 L348.65,596.83 L347.36,593.83 L346.11,591 L345.26,589.08 L344.46,587.27 L343.68,585.51 L342.93,583.81 L342.19,582.15 L341.46,580.52 L340.75,578.92 L340.03,577.33 L339.32,575.74 L338.61,574.14 L337.89,572.53 L337.16,570.89 L337.16,570.89" fill="none" stroke="#1a1a1a" stroke-width="1.3" stroke-linejoin="round"/>
<path d="M445.29,248.82 C445.45,254.34 435.38,259.12 422.8,259.5 C410.21,259.87 399.88,255.7 399.71,250.18" fill="none" stroke="#1a1a1a" stroke-width="1.3" />
<path d="M409.7,280.3 C414,286.5 428,287.5 436.5,279.5 C442,274 447.8,264 446.6,252" fill="none" stroke="#1a1a1a" stroke-width="1.3" />
<path d="M507.01,356.74 C510.55,362.67 504.03,373.07 493.52,379.35 C483,385.62 472.47,385.39 468.93,379.46" fill="none" stroke="#1a1a1a" stroke-width="1.3" />
<path d="M524.24,433.95 C524.21,439.47 514.39,443.91 502.3,443.86 C490.2,443.81 480.41,439.3 480.44,433.78" fill="none" stroke="#1a1a1a" stroke-width="1.3" />
<path d="M523.69,504.42 C523.58,509.94 513.69,514.22 501.6,513.98 C489.5,513.74 479.79,509.07 479.9,503.55" fill="none" stroke="#1a1a1a" stroke-width="1.3" />
<path d="M321.01,645.77 C324.43,652.09 333.46,653.81 344.45,647.86 C355.44,641.91 364.21,630.54 360.79,624.23" fill="none" stroke="#1a1a1a" stroke-width="1.3" />
<path d="M525.2,457 L525.2,494.5" fill="none" stroke="#1a1a1a" stroke-width="2.2" stroke-dasharray="1.5,1"/>
<path d="M452,151.6 L452,157.93 L451.99,158.18 L451.97,158.43 L451.95,158.69 L451.92,158.94 L451.88,159.2 L451.84,159.45 L451.78,159.71 L451.73,159.97 L451.66,160.23 L451.59,160.49 L451.5,160.75 L451.41,161.02 L451.31,161.29 L451.21,161.56 L451.09,161.83 L450.96,162.11 L450.82,162.39 L450.67,162.67 L450.51,162.96 L450.34,163.25 L450.16,163.54 L449.96,163.84 L449.74,164.14 L449.52,164.45 L449.27,164.76 L449.01,165.07 L448.73,165.39 L448.43,165.71 L448.11,166.04 L447.77,166.37 L447.41,166.71 L447.02,167.05 L446.6,167.4 L446.16,167.75 L445.69,168.1 L445.18,168.46 L444.65,168.81 L444.07,169.17 L443.47,169.54 L442.82,169.9 L442.13,170.26 L441.4,170.62 L440.63,170.98 L439.81,171.33 L438.95,171.67 L438.04,172.01 L437.08,172.33 L436.08,172.64 L435.02,172.94 L433.93,173.22 L432.78,173.48 L431.6,173.71 L430.38,173.92 L429.12,174.11 L427.84,174.26 L426.52,174.38 L425.19,174.47 L423.85,174.52 L422.5,174.54 L421.15,174.52 L419.81,174.47 L418.48,174.38 L417.16,174.26 L415.88,174.11 L414.62,173.92 L413.4,173.71 L412.22,173.48 L411.07,173.22 L409.98,172.94 L408.92,172.64 L407.92,172.33 L406.96,172.01 L406.05,171.67 L405.19,171.33 L404.37,170.98 L403.6,170.62 L402.87,170.26 L402.18,169.9 L401.53,169.54 L400.93,169.17 L400.35,168.81 L399.82,168.46 L399.31,168.1 L398.84,167.75 L398.4,167.4 L397.98,167.05 L397.59,166.71 L397.23,166.37 L396.89,166.04 L396.57,165.71 L396.27,165.39 L395.99,165.07 L395.73,164.76 L395.48,164.45 L395.26,164.14 L395.04,163.84 L394.84,163.54 L394.66,163.25 L394.49,162.96 L394.33,162.67 L394.18,162.39 L394.04,162.11 L393.91,161.83 L393.79,161.56 L393.69,161.29 L393.59,161.02 L393.5,160.75 L393.41,160.49 L393.34,160.23 L393.27,159.97 L393.22,159.71 L393.16,159.45 L393.12,159.2 L393.08,158.94 L393.05,158.69 L393.03,158.43 L393.01,158.18 L393,157.93 L393,151.6 L393,151.35 L393.01,151.1 L393.03,150.85 L393.05,150.59 L393.08,150.34 L393.12,150.08 L393.16,149.83 L393.22,149.57 L393.27,149.31 L393.34,149.05 L393.41,148.79 L393.5,148.53 L393.59,148.26 L393.69,147.99 L393.79,147.72 L393.91,147.45 L394.04,147.17 L394.18,146.89 L394.33,146.61 L394.49,146.32 L394.66,146.03 L394.84,145.74 L395.04,145.44 L395.26,145.14 L395.48,144.83 L395.73,144.52 L395.99,144.21 L396.27,143.89 L396.57,143.57 L396.89,143.24 L397.23,142.91 L397.59,142.57 L397.98,142.23 L398.4,141.88 L398.84,141.53 L399.31,141.18 L399.82,140.82 L400.35,140.47 L400.93,140.11 L401.53,139.74 L402.18,139.38 L402.87,139.02 L403.6,138.66 L404.37,138.3 L405.19,137.95 L406.05,137.61 L406.96,137.27 L407.92,136.95 L408.92,136.64 L409.98,136.34 L411.07,136.06 L412.22,135.8 L413.4,135.57 L414.62,135.36 L415.88,135.17 L417.16,135.02 L418.48,134.9 L419.81,134.82 L421.15,134.76 L422.5,134.74 L423.85,134.76 L425.19,134.82 L426.52,134.9 L427.84,135.02 L429.12,135.17 L430.38,135.36 L431.6,135.57 L432.78,135.8 L433.93,136.06 L435.02,136.34 L436.08,136.64 L437.08,136.95 L438.04,137.27 L438.95,137.61 L439.81,137.95 L440.63,138.3 L441.4,138.66 L442.13,139.02 L442.82,139.38 L443.47,139.74 L444.07,140.11 L444.65,140.47 L445.18,140.82 L445.69,141.18 L446.16,141.53 L446.6,141.88 L447.02,142.23 L447.41,142.57 L447.77,142.91 L448.11,143.24 L448.43,143.57 L448.73,143.89 L449.01,144.21 L449.27,144.52 L449.52,144.83 L449.74,145.14 L449.96,145.44 L450.16,145.74 L450.34,146.03 L450.51,146.32 L450.67,146.61 L450.82,146.89 L450.96,147.17 L451.09,147.45 L451.21,147.72 L451.31,147.99 L451.41,148.26 L451.5,148.53 L451.59,148.79 L451.66,149.05 L451.73,149.31 L451.78,149.57 L451.84,149.83 L451.88,150.08 L451.92,150.34 L451.95,150.59 L451.97,150.85 L451.99,151.1 L452,151.35Z" fill="#fff" stroke="#1a1a1a" stroke-width="1.3" />
<path d="M468.5,143.4 L468.49,143.79 L468.48,144.18 L468.45,144.58 L468.42,144.97 L468.37,145.37 L468.31,145.77 L468.24,146.17 L468.16,146.57 L468.07,146.97 L467.97,147.38 L467.85,147.79 L467.73,148.2 L467.59,148.61 L467.43,149.03 L467.26,149.45 L467.08,149.88 L466.88,150.31 L466.67,150.75 L466.43,151.19 L466.18,151.64 L465.91,152.09 L465.63,152.55 L465.32,153.01 L464.98,153.48 L464.63,153.96 L464.25,154.44 L463.84,154.93 L463.4,155.43 L462.94,155.93 L462.44,156.44 L461.91,156.96 L461.34,157.49 L460.73,158.02 L460.08,158.56 L459.39,159.1 L458.66,159.65 L457.87,160.21 L457.03,160.77 L456.14,161.33 L455.19,161.89 L454.18,162.46 L453.11,163.02 L451.97,163.58 L450.77,164.14 L449.5,164.68 L448.15,165.22 L446.73,165.74 L445.24,166.25 L443.67,166.74 L442.03,167.2 L440.32,167.64 L438.54,168.04 L436.69,168.4 L434.79,168.73 L432.83,169.02 L430.82,169.25 L428.78,169.44 L426.7,169.58 L424.61,169.66 L422.5,169.69 L420.39,169.66 L418.3,169.58 L416.22,169.44 L414.18,169.25 L412.17,169.02 L410.21,168.73 L408.31,168.4 L406.46,168.04 L404.68,167.64 L402.97,167.2 L401.33,166.74 L399.76,166.25 L398.27,165.74 L396.85,165.22 L395.5,164.68 L394.23,164.14 L393.03,163.58 L391.89,163.02 L390.82,162.46 L389.81,161.89 L388.86,161.33 L387.97,160.77 L387.13,160.21 L386.34,159.65 L385.61,159.1 L384.92,158.56 L384.27,158.02 L383.66,157.49 L383.09,156.96 L382.56,156.44 L382.06,155.93 L381.6,155.43 L381.16,154.93 L380.75,154.44 L380.37,153.96 L380.02,153.48 L379.68,153.01 L379.37,152.55 L379.09,152.09 L378.82,151.64 L378.57,151.19 L378.33,150.75 L378.12,150.31 L377.92,149.88 L377.74,149.45 L377.57,149.03 L377.41,148.61 L377.27,148.2 L377.15,147.79 L377.03,147.38 L376.93,146.97 L376.84,146.57 L376.76,146.17 L376.69,145.77 L376.63,145.37 L376.58,144.97 L376.55,144.58 L376.52,144.18 L376.51,143.79 L376.5,143.4 L376.51,143 L376.52,142.61 L376.55,142.22 L376.58,141.82 L376.63,141.43 L376.69,141.03 L376.76,140.63 L376.84,140.23 L376.93,139.82 L377.03,139.42 L377.15,139.01 L377.27,138.6 L377.41,138.18 L377.57,137.76 L377.74,137.34 L377.92,136.92 L378.12,136.48 L378.33,136.05 L378.57,135.61 L378.82,135.16 L379.09,134.71 L379.37,134.25 L379.68,133.79 L380.02,133.32 L380.37,132.84 L380.75,132.36 L381.16,131.87 L381.6,131.37 L382.94,129.91 L383.43,129.41 L383.95,128.9 L384.51,128.39 L385.1,127.86 L385.73,127.34 L386.41,126.81 L387.13,126.27 L387.9,125.72 L388.72,125.18 L389.59,124.63 L390.52,124.07 L391.51,123.52 L392.55,122.97 L393.67,122.42 L394.84,121.88 L396.09,121.34 L397.41,120.82 L398.8,120.31 L400.26,119.81 L401.79,119.33 L403.4,118.88 L405.07,118.46 L406.81,118.06 L408.62,117.7 L410.48,117.38 L412.4,117.11 L414.36,116.87 L416.36,116.69 L418.39,116.56 L420.44,116.48 L422.5,116.45 L424.56,116.48 L426.61,116.56 L428.64,116.69 L430.64,116.87 L432.6,117.11 L434.52,117.38 L436.38,117.7 L438.19,118.06 L439.93,118.46 L441.6,118.88 L443.21,119.33 L444.74,119.81 L446.2,120.31 L447.59,120.82 L448.91,121.34 L450.16,121.88 L451.33,122.42 L452.45,122.97 L453.49,123.52 L454.48,124.07 L455.41,124.63 L456.28,125.18 L457.1,125.72 L457.87,126.27 L458.59,126.81 L459.27,127.34 L459.9,127.86 L460.49,128.39 L461.05,128.9 L461.57,129.41 L462.06,129.91 L463.4,131.37 L463.84,131.87 L464.25,132.36 L464.63,132.84 L464.98,133.32 L465.32,133.79 L465.63,134.25 L465.91,134.71 L466.18,135.16 L466.43,135.61 L466.67,136.05 L466.88,136.48 L467.08,136.92 L467.26,137.34 L467.43,137.76 L467.59,138.18 L467.73,138.6 L467.85,139.01 L467.97,139.42 L468.07,139.82 L468.16,140.23 L468.24,140.63 L468.31,141.03 L468.37,141.43 L468.42,141.82 L468.45,142.22 L468.48,142.61 L468.49,143Z" fill="#fff" stroke="#1a1a1a" stroke-width="1.3" />
<path d="M468.9,138.06 L468.89,141.25 L468.88,141.65 L468.85,142.05 L468.82,142.44 L468.77,142.84 L468.71,143.24 L468.64,143.65 L468.56,144.05 L468.47,144.46 L468.37,144.87 L468.25,145.28 L468.12,145.7 L467.98,146.11 L467.82,146.54 L467.65,146.96 L467.47,147.39 L467.27,147.83 L467.05,148.27 L466.82,148.71 L466.56,149.16 L466.29,149.62 L466,150.08 L465.69,150.55 L465.35,151.02 L464.99,151.5 L464.61,151.99 L464.2,152.49 L463.76,152.99 L463.29,153.5 L462.79,154.01 L462.25,154.53 L461.68,155.06 L461.06,155.6 L459.67,156.75 L458.99,157.29 L458.26,157.83 L457.48,158.38 L456.66,158.94 L455.78,159.49 L454.84,160.05 L453.84,160.61 L452.78,161.17 L451.65,161.72 L450.46,162.27 L449.2,162.81 L447.87,163.34 L446.47,163.86 L444.99,164.36 L443.44,164.84 L441.82,165.3 L440.12,165.73 L438.36,166.13 L436.54,166.49 L434.65,166.82 L432.71,167.1 L430.73,167.33 L428.71,167.52 L426.66,167.65 L424.58,167.73 L422.5,167.76 L420.42,167.73 L418.34,167.65 L416.29,167.52 L414.27,167.33 L412.29,167.1 L410.35,166.82 L408.46,166.49 L406.64,166.13 L404.88,165.73 L403.18,165.3 L401.56,164.84 L400.01,164.36 L398.53,163.86 L397.13,163.34 L395.8,162.81 L394.54,162.27 L393.35,161.72 L392.22,161.17 L391.16,160.61 L390.16,160.05 L389.22,159.49 L388.34,158.94 L387.52,158.38 L386.74,157.83 L386.01,157.29 L385.33,156.75 L383.94,155.6 L383.32,155.06 L382.75,154.53 L382.21,154.01 L381.71,153.5 L381.24,152.99 L380.8,152.49 L380.39,151.99 L380.01,151.5 L379.65,151.02 L379.31,150.55 L379,150.08 L378.71,149.62 L378.44,149.16 L378.18,148.71 L377.95,148.27 L377.73,147.83 L377.53,147.39 L377.35,146.96 L377.18,146.54 L377.02,146.11 L376.88,145.7 L376.75,145.28 L376.63,144.87 L376.53,144.46 L376.44,144.05 L376.36,143.65 L376.29,143.24 L376.23,142.84 L376.18,142.44 L376.15,142.05 L376.12,141.65 L376.11,141.25 L376.1,138.06 L376.11,137.67 L376.12,137.27 L376.15,136.87 L376.18,136.47 L376.23,136.07 L376.29,135.67 L376.36,135.27 L376.44,134.87 L376.53,134.46 L376.63,134.05 L376.75,133.64 L376.88,133.22 L377.02,132.8 L377.18,132.38 L377.35,131.96 L377.53,131.53 L377.73,131.09 L377.95,130.65 L378.18,130.21 L378.44,129.76 L378.71,129.3 L379,128.84 L379.31,128.37 L379.65,127.9 L380.01,127.41 L381.48,125.57 L381.88,125.09 L382.31,124.6 L382.77,124.11 L383.26,123.61 L383.78,123.1 L384.34,122.58 L384.93,122.06 L385.57,121.53 L386.25,120.99 L386.97,120.45 L387.75,119.91 L388.57,119.36 L389.44,118.8 L390.38,118.25 L391.37,117.7 L392.42,117.14 L393.54,116.59 L394.72,116.05 L395.97,115.51 L397.3,114.98 L398.69,114.46 L400.16,113.97 L401.7,113.49 L403.31,113.03 L404.99,112.61 L406.74,112.21 L408.56,111.85 L410.43,111.53 L412.35,111.25 L414.32,111.02 L416.33,110.83 L418.37,110.7 L420.43,110.62 L422.5,110.59 L424.57,110.62 L426.63,110.7 L428.67,110.83 L430.68,111.02 L432.65,111.25 L434.57,111.53 L436.44,111.85 L438.26,112.21 L440.01,112.61 L441.69,113.03 L443.3,113.49 L444.84,113.97 L446.31,114.46 L447.7,114.98 L449.03,115.51 L450.28,116.05 L451.46,116.59 L452.58,117.14 L453.63,117.7 L454.62,118.25 L455.56,118.8 L456.43,119.36 L457.25,119.91 L458.03,120.45 L458.75,120.99 L459.43,121.53 L460.07,122.06 L460.66,122.58 L461.22,123.1 L461.74,123.61 L462.23,124.11 L462.69,124.6 L463.12,125.09 L463.52,125.57 L464.99,127.41 L465.35,127.9 L465.69,128.37 L466,128.84 L466.29,129.3 L466.56,129.76 L466.82,130.21 L467.05,130.65 L467.27,131.09 L467.47,131.53 L467.65,131.96 L467.82,132.38 L467.98,132.8 L468.12,133.22 L468.25,133.64 L468.37,134.05 L468.47,134.46 L468.56,134.87 L468.64,135.27 L468.71,135.67 L468.77,136.07 L468.82,136.47 L468.85,136.87 L468.88,137.27 L468.89,137.67Z" fill="#fff" stroke="#1a1a1a" stroke-width="1.3" />
<path d="M468.9,131.75 L468.89,135.59 L468.88,135.99 L468.85,136.38 L468.82,136.78 L468.77,137.18 L468.71,137.58 L468.64,137.99 L468.56,138.39 L468.47,138.8 L468.37,139.21 L468.25,139.62 L468.12,140.03 L467.98,140.45 L467.82,140.87 L467.65,141.3 L467.47,141.73 L467.27,142.17 L467.05,142.61 L466.82,143.05 L466.56,143.5 L466.29,143.96 L466,144.42 L465.69,144.89 L465.35,145.36 L464.99,145.84 L464.61,146.33 L464.2,146.82 L463.76,147.33 L463.29,147.83 L462.79,148.35 L462.25,148.87 L461.68,149.4 L461.06,149.94 L460.41,150.48 L459.71,151.03 L458.97,151.59 L457.48,152.64 L456.66,153.19 L455.78,153.75 L454.84,154.31 L453.84,154.86 L452.78,155.42 L451.65,155.98 L450.46,156.53 L449.2,157.07 L447.87,157.6 L446.47,158.12 L444.99,158.62 L443.44,159.1 L441.82,159.56 L440.12,159.99 L438.36,160.38 L436.54,160.75 L434.65,161.07 L432.71,161.35 L430.73,161.59 L428.71,161.77 L426.66,161.91 L424.58,161.99 L422.5,162.02 L420.42,161.99 L418.34,161.91 L416.29,161.77 L414.27,161.59 L412.29,161.35 L410.35,161.07 L408.46,160.75 L406.64,160.38 L404.88,159.99 L403.18,159.56 L401.56,159.1 L400.01,158.62 L398.53,158.12 L397.13,157.6 L395.8,157.07 L394.54,156.53 L393.35,155.98 L392.22,155.42 L391.16,154.86 L390.16,154.31 L389.22,153.75 L388.34,153.19 L387.52,152.64 L386.03,151.59 L385.29,151.03 L384.59,150.48 L383.94,149.94 L383.32,149.4 L382.75,148.87 L382.21,148.35 L381.71,147.83 L381.24,147.33 L380.8,146.82 L380.39,146.33 L380.01,145.84 L379.65,145.36 L379.31,144.89 L379,144.42 L378.71,143.96 L378.44,143.5 L378.18,143.05 L377.95,142.61 L377.73,142.17 L377.53,141.73 L377.35,141.3 L377.18,140.87 L377.02,140.45 L376.88,140.03 L376.75,139.62 L376.63,139.21 L376.53,138.8 L376.44,138.39 L376.36,137.99 L376.29,137.58 L376.23,137.18 L376.18,136.78 L376.15,136.38 L376.12,135.99 L376.11,135.59 L376.1,131.75 L376.11,131.35 L376.12,130.95 L376.15,130.55 L376.18,130.16 L376.23,129.76 L376.29,129.35 L376.76,126.51 L376.84,126.11 L376.93,125.71 L377.03,125.3 L377.15,124.9 L377.27,124.48 L377.41,124.07 L377.57,123.65 L377.74,123.23 L377.92,122.8 L378.12,122.37 L378.33,121.93 L378.57,121.49 L378.82,121.05 L379.09,120.59 L379.37,120.14 L379.68,119.67 L380.02,119.2 L380.37,118.73 L380.75,118.24 L381.16,117.75 L381.6,117.25 L382.06,116.75 L382.56,116.24 L383.09,115.72 L383.66,115.2 L384.27,114.66 L384.92,114.13 L385.61,113.58 L386.34,113.03 L387.13,112.48 L387.97,111.92 L388.86,111.35 L391.58,109.74 L392.54,109.21 L393.55,108.68 L394.63,108.15 L395.77,107.62 L396.97,107.1 L398.25,106.59 L399.59,106.1 L401,105.62 L402.48,105.16 L404.03,104.72 L405.65,104.31 L407.34,103.93 L409.08,103.58 L410.88,103.27 L412.73,103.01 L414.63,102.78 L416.57,102.6 L418.53,102.48 L420.51,102.4 L422.5,102.37 L424.49,102.4 L426.47,102.48 L428.43,102.6 L430.37,102.78 L432.27,103.01 L434.12,103.27 L435.92,103.58 L437.66,103.93 L439.35,104.31 L440.97,104.72 L442.52,105.16 L444,105.62 L445.41,106.1 L446.75,106.59 L448.03,107.1 L449.23,107.62 L450.37,108.15 L451.45,108.68 L452.46,109.21 L453.42,109.74 L456.14,111.35 L457.03,111.92 L457.87,112.48 L458.66,113.03 L459.39,113.58 L460.08,114.13 L460.73,114.66 L461.34,115.2 L461.91,115.72 L462.44,116.24 L462.94,116.75 L463.4,117.25 L463.84,117.75 L464.25,118.24 L464.63,118.73 L464.98,119.2 L465.32,119.67 L465.63,120.14 L465.91,120.59 L466.18,121.05 L466.43,121.49 L466.67,121.93 L466.88,122.37 L467.08,122.8 L467.26,123.23 L467.43,123.65 L467.59,124.07 L467.73,124.48 L467.85,124.9 L467.97,125.3 L468.07,125.71 L468.16,126.11 L468.24,126.51 L468.71,129.35 L468.77,129.76 L468.82,130.16 L468.85,130.55 L468.88,130.95 L468.89,131.35Z" fill="#fff" stroke="#1a1a1a" stroke-width="1.3" />
<path d="M463.75,132.57 L463.65,134.21 L463.35,135.85 L462.85,137.47 L462.15,139.06 L461.26,140.63 L460.18,142.15 L458.92,143.63 L457.48,145.06 L455.87,146.42 L454.1,147.72 L452.17,148.94 L450.1,150.09 L447.9,151.14 L445.57,152.11 L443.12,152.98 L440.58,153.75 L437.95,154.42 L435.25,154.99 L432.48,155.44 L429.66,155.78 L426.81,156.01 L423.94,156.13 L421.06,156.13 L418.19,156.01 L415.34,155.78 L412.52,155.44 L409.75,154.99 L407.05,154.42 L404.42,153.75 L401.88,152.98 L399.43,152.11 L397.1,151.14 L394.9,150.09 L392.83,148.94 L390.9,147.72 L389.13,146.42 L387.52,145.06 L386.08,143.63 L384.82,142.15 L383.74,140.63 L382.85,139.06 L382.15,137.47 L381.65,135.85 L381.35,134.21 L381.25,132.57 L381.35,130.92 L381.65,129.29 L382.15,127.66 L382.85,126.07 L383.74,124.5 L384.82,122.98 L386.08,121.5 L387.52,120.07 L389.13,118.71 L390.9,117.41 L392.83,116.19 L394.9,115.05 L397.1,113.99 L399.43,113.02 L401.88,112.15 L404.42,111.38 L407.05,110.71 L409.75,110.15 L412.52,109.69 L415.34,109.35 L418.19,109.12 L421.06,109.01 L423.94,109.01 L426.81,109.12 L429.66,109.35 L432.48,109.69 L435.25,110.15 L437.95,110.71 L440.58,111.38 L443.12,112.15 L445.57,113.02 L447.9,113.99 L450.1,115.05 L452.17,116.19 L454.1,117.41 L455.87,118.71 L457.48,120.07 L458.92,121.5 L460.18,122.98 L461.26,124.5 L462.15,126.07 L462.85,127.66 L463.35,129.29 L463.65,130.92 L463.75,132.57" fill="none" stroke="#1a1a1a" stroke-width="1.3" />
<path d="M473.5,73.89 L473.29,89.59 L473.28,90.03 L472.45,103.65 L472.41,104.08 L472.36,104.51 L472.3,104.94 L472.22,105.38 L472.14,105.81 L472.04,106.25 L471.92,106.69 L471.8,107.14 L470.18,112.35 L470.04,112.79 L469.87,113.23 L469.7,113.68 L469.5,114.13 L469.29,114.58 L469.07,115.04 L468.82,115.51 L468.56,115.98 L468.27,116.45 L467.97,116.94 L464.85,121.72 L464.52,122.19 L464.17,122.66 L463.79,123.14 L463.39,123.62 L462.96,124.11 L462.5,124.61 L462,125.12 L458.05,128.96 L457.54,129.44 L456.99,129.92 L456.41,130.4 L455.78,130.9 L455.12,131.39 L454.41,131.89 L453.65,132.4 L452.85,132.9 L451.99,133.41 L451.08,133.92 L450.12,134.43 L449.09,134.94 L448,135.44 L443.04,137.52 L442.02,137.93 L440.93,138.33 L439.8,138.71 L438.61,139.08 L437.36,139.43 L436.06,139.77 L434.7,140.07 L433.3,140.35 L431.85,140.6 L430.36,140.82 L428.83,141 L427.27,141.14 L425.7,141.24 L424.1,141.31 L422.5,141.33 L420.9,141.31 L419.3,141.24 L417.73,141.14 L416.17,141 L414.64,140.82 L413.15,140.6 L411.7,140.35 L410.3,140.07 L408.94,139.77 L407.64,139.43 L406.39,139.08 L405.2,138.71 L404.07,138.33 L402.98,137.93 L401.96,137.52 L397,135.44 L395.91,134.94 L394.88,134.43 L393.92,133.92 L393.01,133.41 L392.15,132.9 L391.35,132.4 L390.59,131.89 L389.88,131.39 L389.22,130.9 L388.59,130.4 L388.01,129.92 L387.46,129.44 L386.95,128.96 L383,125.12 L382.5,124.61 L382.04,124.11 L381.61,123.62 L381.21,123.14 L380.83,122.66 L380.48,122.19 L380.15,121.72 L377.03,116.94 L376.73,116.45 L376.44,115.98 L376.18,115.51 L375.93,115.04 L375.71,114.58 L375.5,114.13 L375.3,113.68 L375.13,113.23 L374.96,112.79 L374.82,112.35 L373.2,107.14 L373.08,106.69 L372.96,106.25 L372.86,105.81 L372.78,105.38 L372.7,104.94 L372.64,104.51 L372.59,104.08 L372.55,103.65 L371.72,90.03 L371.71,89.59 L371.5,73.89 L371.51,73.46 L371.52,73.02 L371.55,72.58 L371.59,72.15 L371.64,71.71 L371.71,71.27 L371.78,70.82 L371.87,70.38 L371.97,69.93 L372.09,69.48 L372.22,69.03 L372.36,68.57 L372.51,68.11 L372.68,67.65 L372.87,67.18 L373.07,66.71 L373.3,66.23 L373.53,65.74 L373.79,65.26 L374.07,64.76 L374.37,64.26 L374.69,63.75 L375.03,63.24 L375.4,62.72 L375.79,62.19 L376.22,61.65 L376.67,61.11 L377.15,60.56 L377.67,60 L378.22,59.43 L378.81,58.86 L379.44,58.27 L380.11,57.68 L380.83,57.09 L381.6,56.48 L382.42,55.87 L383.29,55.26 L384.21,54.64 L385.2,54.01 L386.25,53.39 L387.37,52.76 L388.56,52.14 L389.82,51.52 L391.16,50.9 L392.57,50.29 L394.06,49.7 L395.64,49.12 L397.29,48.56 L399.03,48.02 L400.85,47.5 L402.75,47.02 L404.72,46.57 L406.77,46.17 L408.88,45.81 L411.05,45.49 L413.28,45.23 L415.54,45.02 L417.84,44.87 L420.17,44.78 L422.5,44.75 L424.83,44.78 L427.16,44.87 L429.46,45.02 L431.72,45.23 L433.95,45.49 L436.12,45.81 L438.23,46.17 L440.28,46.57 L442.25,47.02 L444.15,47.5 L445.97,48.02 L447.71,48.56 L449.36,49.12 L450.94,49.7 L452.43,50.29 L453.84,50.9 L455.18,51.52 L456.44,52.14 L457.63,52.76 L458.75,53.39 L459.8,54.01 L460.79,54.64 L461.71,55.26 L462.58,55.87 L463.4,56.48 L464.17,57.09 L464.89,57.68 L465.56,58.27 L466.19,58.86 L466.78,59.43 L467.33,60 L467.85,60.56 L468.33,61.11 L468.78,61.65 L469.21,62.19 L469.6,62.72 L469.97,63.24 L470.31,63.75 L470.63,64.26 L470.93,64.76 L471.21,65.26 L471.47,65.74 L471.7,66.23 L471.93,66.71 L472.13,67.18 L472.32,67.65 L472.49,68.11 L472.64,68.57 L472.78,69.03 L472.91,69.48 L473.03,69.93 L473.13,70.38 L473.22,70.82 L473.29,71.27 L473.36,71.71 L473.41,72.15 L473.45,72.58 L473.48,73.02 L473.49,73.46Z" fill="#fff" stroke="#1a1a1a" stroke-width="1.3" />
<path d="M499.4,59.53 L499.39,65.93 L499.37,66.59 L499.32,67.25 L499.26,67.91 L499.18,68.57 L499.09,69.24 L498.97,69.91 L498.84,70.58 L498.69,71.25 L498.51,71.93 L498.32,72.61 L498.11,73.3 L497.87,73.99 L497.61,74.69 L497.33,75.4 L496.44,77.42 L496.11,78.14 L495.76,78.86 L495.37,79.59 L494.96,80.33 L494.51,81.08 L494.03,81.84 L493.52,82.61 L492.97,83.39 L492.38,84.18 L491.74,84.99 L491.07,85.8 L490.34,86.62 L489.57,87.46 L488.74,88.31 L487.86,89.17 L486.92,90.04 L485.91,90.92 L484.84,91.81 L483.69,92.72 L482.47,93.63 L481.17,94.55 L479.78,95.48 L478.3,96.41 L476.73,97.35 L475.05,98.28 L473.28,99.22 L471.39,100.15 L469.39,101.07 L467.28,101.98 L465.04,102.87 L462.69,103.74 L460.21,104.58 L457.61,105.39 L454.89,106.15 L452.05,106.87 L449.1,107.54 L446.04,108.15 L442.88,108.69 L439.63,109.16 L436.3,109.56 L432.91,109.87 L429.47,110.09 L425.99,110.23 L422.5,110.28 L419.01,110.23 L415.53,110.09 L412.09,109.87 L408.7,109.56 L405.37,109.16 L402.12,108.69 L398.96,108.15 L395.9,107.54 L392.95,106.87 L390.11,106.15 L387.39,105.39 L384.79,104.58 L382.31,103.74 L379.96,102.87 L377.72,101.98 L375.61,101.07 L373.61,100.15 L371.72,99.22 L369.95,98.28 L368.27,97.35 L366.7,96.41 L365.22,95.48 L363.83,94.55 L362.53,93.63 L361.31,92.72 L360.16,91.81 L359.09,90.92 L358.08,90.04 L357.14,89.17 L356.26,88.31 L355.43,87.46 L354.66,86.62 L353.93,85.8 L353.26,84.99 L352.62,84.18 L352.03,83.39 L351.48,82.61 L350.97,81.84 L350.49,81.08 L350.04,80.33 L349.63,79.59 L349.24,78.86 L348.89,78.14 L348.56,77.42 L347.67,75.4 L347.39,74.69 L347.13,73.99 L346.89,73.3 L346.68,72.61 L346.49,71.93 L346.31,71.25 L346.16,70.58 L346.03,69.91 L345.91,69.24 L345.82,68.57 L345.74,67.91 L345.68,67.25 L345.63,66.59 L345.61,65.93 L345.6,59.53 L345.61,58.87 L345.63,58.22 L345.68,57.56 L345.74,56.9 L345.82,56.24 L345.91,55.57 L346.03,54.9 L346.16,54.23 L346.31,53.56 L346.49,52.88 L346.68,52.2 L346.89,51.51 L347.52,49.63 L347.78,48.93 L348.06,48.23 L348.36,47.52 L348.69,46.8 L350.01,44.19 L350.39,43.46 L350.8,42.73 L351.24,41.99 L351.72,41.24 L352.23,40.48 L352.77,39.7 L353.36,38.92 L353.98,38.13 L354.65,37.32 L355.37,36.51 L356.13,35.68 L356.95,34.84 L357.82,33.99 L358.76,33.13 L359.75,32.25 L360.81,31.37 L361.95,30.48 L363.16,29.57 L364.45,28.66 L365.82,27.74 L367.29,26.82 L368.84,25.9 L370.5,24.97 L372.26,24.04 L374.12,23.12 L376.1,22.21 L378.19,21.31 L380.4,20.43 L382.73,19.57 L385.18,18.74 L387.76,17.94 L390.45,17.18 L393.26,16.47 L396.18,15.81 L399.21,15.21 L402.34,14.67 L405.55,14.2 L408.84,13.81 L412.2,13.51 L415.61,13.28 L419.04,13.15 L422.5,13.1 L425.96,13.15 L429.39,13.28 L432.8,13.51 L436.16,13.81 L439.45,14.2 L442.66,14.67 L445.79,15.21 L448.82,15.81 L451.74,16.47 L454.55,17.18 L457.24,17.94 L459.82,18.74 L462.27,19.57 L464.6,20.43 L466.81,21.31 L468.9,22.21 L470.88,23.12 L472.74,24.04 L474.5,24.97 L476.16,25.9 L477.71,26.82 L479.18,27.74 L480.55,28.66 L481.84,29.57 L483.05,30.48 L484.19,31.37 L485.25,32.25 L486.24,33.13 L487.18,33.99 L488.05,34.84 L488.87,35.68 L489.63,36.51 L490.35,37.32 L491.02,38.13 L491.64,38.92 L492.23,39.7 L492.77,40.48 L493.28,41.24 L493.76,41.99 L494.2,42.73 L494.61,43.46 L494.99,44.19 L496.31,46.8 L496.64,47.52 L496.94,48.23 L497.22,48.93 L497.48,49.63 L498.11,51.51 L498.32,52.2 L498.51,52.88 L498.69,53.56 L498.84,54.23 L498.97,54.9 L499.09,55.57 L499.18,56.24 L499.26,56.9 L499.32,57.56 L499.37,58.22 L499.39,58.87Z" fill="#fff" stroke="#1a1a1a" stroke-width="1.3" />
<path d="M498.98,63.72 L498.23,66.75 L497.12,69.75 L495.64,72.7 L493.8,75.59 L491.62,78.39 L489.1,81.1 L486.25,83.7 L483.1,86.18 L479.65,88.53 L475.92,90.74 L471.93,92.79 L467.7,94.68 L463.25,96.39 L458.6,97.93 L453.78,99.27 L448.8,100.42 L443.7,101.37 L438.49,102.11 L433.2,102.64 L427.86,102.96 L422.5,103.07 L417.14,102.96 L411.8,102.64 L406.51,102.11 L401.3,101.37 L396.2,100.42 L391.22,99.27 L386.4,97.93 L381.75,96.39 L377.3,94.68 L373.07,92.79 L369.08,90.74 L365.35,88.53 L361.9,86.18 L358.75,83.7 L355.9,81.1 L353.38,78.39 L351.2,75.59 L349.36,72.7 L347.88,69.75 L346.77,66.75 L346.02,63.72" fill="none" stroke="#1a1a1a" stroke-width="1.3" />
<path d="M499.21,64.73 L498.65,67.78 L497.72,70.8 L496.42,73.78 L494.76,76.7 L492.75,79.54 L490.4,82.3 L487.71,84.96 L484.71,87.5 L481.41,89.92 L477.82,92.2 L473.96,94.33 L469.84,96.3 L465.5,98.1 L460.95,99.73 L456.21,101.17 L451.31,102.41 L446.26,103.46 L441.1,104.31 L435.85,104.95 L430.54,105.37 L425.18,105.59 L419.82,105.59 L414.46,105.37 L409.15,104.95 L403.9,104.31 L398.74,103.46 L393.69,102.41 L388.79,101.17 L384.05,99.73 L379.5,98.1 L375.16,96.3 L371.04,94.33 L367.18,92.2 L363.59,89.92 L360.29,87.5 L357.29,84.96 L354.6,82.3 L352.25,79.54 L350.24,76.7 L348.58,73.78 L347.28,70.8 L346.35,67.78 L345.79,64.73" fill="none" stroke="#1a1a1a" stroke-width="1.3" />
<path d="M499.29,65.85 L498.82,68.94 L497.96,72.01 L496.73,75.03 L495.13,78 L493.16,80.89 L490.85,83.7 L488.19,86.4 L485.21,88.99 L481.91,91.46 L478.31,93.79 L474.44,95.96 L470.31,97.98 L465.94,99.82 L461.35,101.48 L456.57,102.95 L451.63,104.23 L446.53,105.3 L441.32,106.17 L436.01,106.82 L430.63,107.26 L425.21,107.47 L419.79,107.47 L414.37,107.26 L408.99,106.82 L403.68,106.17 L398.47,105.3 L393.37,104.23 L388.43,102.95 L383.65,101.48 L379.06,99.82 L374.69,97.98 L370.56,95.96 L366.69,93.79 L363.09,91.46 L359.79,88.99 L356.81,86.4 L354.15,83.7 L351.84,80.89 L349.87,78 L348.27,75.03 L347.04,72.01 L346.18,68.94 L345.71,65.85" fill="none" stroke="#1a1a1a" stroke-width="1.3" />
<path d="M498,56.25 L497.99,56.9 L497.97,57.54 L497.92,58.19 L497.86,58.84 L497.79,59.49 L497.69,60.14 L497.58,60.79 L497.45,61.45 L497.3,62.12 L497.13,62.78 L496.94,63.45 L496.73,64.13 L496.5,64.81 L496.25,65.5 L495.97,66.19 L495.67,66.89 L495.34,67.6 L494.99,68.31 L494.61,69.04 L494.2,69.77 L493.76,70.51 L493.28,71.26 L492.77,72.02 L492.23,72.8 L491.64,73.58 L491.02,74.37 L490.35,75.18 L489.63,75.99 L488.87,76.82 L488.05,77.66 L487.18,78.51 L486.24,79.37 L485.25,80.25 L484.19,81.13 L483.05,82.02 L481.84,82.93 L480.55,83.84 L479.18,84.76 L477.71,85.68 L476.16,86.6 L474.5,87.53 L472.74,88.46 L470.88,89.38 L468.9,90.29 L466.81,91.19 L464.6,92.07 L462.27,92.93 L459.82,93.76 L457.24,94.56 L454.55,95.32 L451.74,96.03 L448.82,96.69 L445.79,97.29 L442.66,97.83 L439.45,98.3 L436.16,98.69 L432.8,98.99 L429.39,99.22 L425.96,99.35 L422.5,99.4 L419.04,99.35 L415.61,99.22 L412.2,98.99 L408.84,98.69 L405.55,98.3 L402.34,97.83 L399.21,97.29 L396.18,96.69 L393.26,96.03 L390.45,95.32 L387.76,94.56 L385.18,93.76 L382.73,92.93 L380.4,92.07 L378.19,91.19 L376.1,90.29 L374.12,89.38 L372.26,88.46 L370.5,87.53 L368.84,86.6 L367.29,85.68 L365.82,84.76 L364.45,83.84 L363.16,82.93 L361.95,82.02 L360.81,81.13 L359.75,80.25 L358.76,79.37 L357.82,78.51 L356.95,77.66 L356.13,76.82 L355.37,75.99 L354.65,75.18 L353.98,74.37 L353.36,73.58 L352.77,72.8 L352.23,72.02 L351.72,71.26 L351.24,70.51 L350.8,69.77 L350.39,69.04 L350.01,68.31 L349.66,67.6 L349.33,66.89 L349.03,66.19 L348.75,65.5 L348.5,64.81 L348.27,64.13 L348.06,63.45 L347.87,62.78 L347.7,62.12 L347.55,61.45 L347.42,60.79 L347.31,60.14 L347.21,59.49 L347.14,58.84 L347.08,58.19 L347.03,57.54 L347.01,56.9 L347,56.25 L347.01,55.6 L347.03,54.96 L347.08,54.31 L347.14,53.66 L347.21,53.01 L347.31,52.36 L347.42,51.71 L347.55,51.05 L347.7,50.38 L347.87,49.72 L348.06,49.05 L348.27,48.37 L348.5,47.69 L348.75,47 L349.03,46.31 L349.33,45.61 L349.66,44.9 L350.01,44.19 L350.39,43.46 L350.8,42.73 L351.24,41.99 L351.72,41.24 L352.23,40.48 L352.77,39.7 L353.36,38.92 L353.98,38.13 L354.65,37.32 L355.37,36.51 L356.13,35.68 L356.95,34.84 L357.82,33.99 L358.76,33.13 L359.75,32.25 L360.81,31.37 L361.95,30.48 L363.16,29.57 L364.45,28.66 L365.82,27.74 L367.29,26.82 L368.84,25.9 L370.5,24.97 L372.26,24.04 L374.12,23.12 L376.1,22.21 L378.19,21.31 L380.4,20.43 L382.73,19.57 L385.18,18.74 L387.76,17.94 L390.45,17.18 L393.26,16.47 L396.18,15.81 L399.21,15.21 L402.34,14.67 L405.55,14.2 L408.84,13.81 L412.2,13.51 L415.61,13.28 L419.04,13.15 L422.5,13.1 L425.96,13.15 L429.39,13.28 L432.8,13.51 L436.16,13.81 L439.45,14.2 L442.66,14.67 L445.79,15.21 L448.82,15.81 L451.74,16.47 L454.55,17.18 L457.24,17.94 L459.82,18.74 L462.27,19.57 L464.6,20.43 L466.81,21.31 L468.9,22.21 L470.88,23.12 L472.74,24.04 L474.5,24.97 L476.16,25.9 L477.71,26.82 L479.18,27.74 L480.55,28.66 L481.84,29.57 L483.05,30.48 L484.19,31.37 L485.25,32.25 L486.24,33.13 L487.18,33.99 L488.05,34.84 L488.87,35.68 L489.63,36.51 L490.35,37.32 L491.02,38.13 L491.64,38.92 L492.23,39.7 L492.77,40.48 L493.28,41.24 L493.76,41.99 L494.2,42.73 L494.61,43.46 L494.99,44.19 L495.34,44.9 L495.67,45.61 L495.97,46.31 L496.25,47 L496.5,47.69 L496.73,48.37 L496.94,49.05 L497.13,49.72 L497.3,50.38 L497.45,51.05 L497.58,51.71 L497.69,52.36 L497.79,53.01 L497.86,53.66 L497.92,54.31 L497.97,54.96 L497.99,55.6Z" fill="#fff" stroke="#1a1a1a" stroke-width="1.3" />
<path d="M346.37,578.37 L346.36,578.83 L346.34,579.3 L346.31,579.78 L346.27,580.27 L346.21,580.76 L346.14,581.26 L346.05,581.77 L345.95,582.28 L345.83,582.81 L345.69,583.34 L345.54,583.88 L345.37,584.43 L345.18,584.98 L344.97,585.55 L344.74,586.12 L344.49,586.7 L344.22,587.29 L343.93,587.89 L343.61,588.49 L343.27,589.1 L342.9,589.72 L342.51,590.34 L342.09,590.97 L341.64,591.61 L341.17,592.24 L340.66,592.88 L340.13,593.52 L339.57,594.16 L338.97,594.81 L338.35,595.45 L337.7,596.08 L337.01,596.71 L336.3,597.34 L335.56,597.96 L334.79,598.56 L333.99,599.16 L333.16,599.74 L332.31,600.31 L331.44,600.86 L330.54,601.4 L329.62,601.91 L328.68,602.4 L327.73,602.87 L326.77,603.32 L325.79,603.74 L324.8,604.13 L323.81,604.5 L322.82,604.84 L321.82,605.15 L320.82,605.43 L319.83,605.68 L318.84,605.9 L317.86,606.1 L316.89,606.26 L315.94,606.4 L314.99,606.51 L314.07,606.6 L313.15,606.66 L312.26,606.69 L311.39,606.71 L310.53,606.7 L309.7,606.66 L308.88,606.61 L308.09,606.54 L307.32,606.45 L306.57,606.34 L305.84,606.21 L305.14,606.07 L304.45,605.92 L303.79,605.75 L303.15,605.57 L302.53,605.38 L301.93,605.17 L301.35,604.96 L300.79,604.73 L300.25,604.5 L299.73,604.26 L299.22,604.01 L298.74,603.76 L298.27,603.49 L297.81,603.22 L297.38,602.95 L296.96,602.67 L296.55,602.38 L296.16,602.09 L295.78,601.79 L295.42,601.49 L295.07,601.19 L294.74,600.88 L294.41,600.56 L294.1,600.24 L293.81,599.92 L293.52,599.59 L293.25,599.26 L292.98,598.93 L292.73,598.59 L292.49,598.25 L292.26,597.91 L292.04,597.56 L291.83,597.2 L291.63,596.84 L291.44,596.48 L291.26,596.12 L291.09,595.75 L288.8,590.58 L288.65,590.21 L288.51,589.82 L288.37,589.43 L288.25,589.04 L288.14,588.64 L288.04,588.24 L287.95,587.83 L287.86,587.42 L287.79,587 L287.73,586.58 L287.68,586.15 L287.64,585.71 L287.61,585.27 L287.59,584.82 L287.59,584.36 L287.59,583.9 L287.61,583.43 L287.64,582.95 L287.69,582.46 L287.74,581.97 L287.82,581.47 L287.9,580.96 L288.01,580.45 L288.13,579.92 L288.26,579.39 L288.41,578.85 L288.58,578.3 L288.77,577.75 L288.98,577.18 L289.21,576.61 L289.46,576.03 L289.73,575.44 L290.03,574.84 L290.34,574.24 L290.69,573.63 L291.05,573.01 L291.45,572.39 L291.87,571.76 L292.31,571.13 L292.79,570.49 L293.29,569.85 L293.83,569.21 L294.39,568.57 L294.98,567.93 L295.6,567.29 L296.26,566.65 L296.94,566.02 L297.65,565.39 L298.4,564.77 L299.17,564.17 L299.97,563.57 L300.79,562.99 L301.64,562.42 L302.52,561.87 L303.42,561.33 L304.33,560.82 L305.27,560.33 L306.22,559.86 L307.19,559.41 L308.16,558.99 L309.15,558.6 L310.14,558.23 L311.14,557.89 L312.14,557.58 L313.13,557.3 L314.13,557.05 L315.11,556.83 L316.09,556.63 L317.06,556.47 L318.02,556.33 L318.96,556.22 L319.89,556.13 L320.8,556.07 L321.69,556.04 L322.57,556.02 L323.42,556.04 L324.26,556.07 L325.07,556.12 L325.86,556.19 L326.63,556.29 L327.38,556.39 L328.11,556.52 L328.82,556.66 L329.5,556.81 L330.16,556.98 L330.8,557.16 L331.42,557.36 L332.02,557.56 L332.6,557.77 L333.16,558 L333.7,558.23 L334.23,558.47 L334.73,558.72 L335.22,558.97 L335.69,559.24 L336.14,559.51 L336.58,559.78 L337,560.06 L337.4,560.35 L337.79,560.64 L338.17,560.94 L338.53,561.24 L338.88,561.55 L339.22,561.86 L339.54,562.17 L339.85,562.49 L340.15,562.81 L340.43,563.14 L340.71,563.47 L340.97,563.8 L341.22,564.14 L341.46,564.48 L341.7,564.83 L341.92,565.18 L342.13,565.53 L342.33,565.89 L342.52,566.25 L342.7,566.61 L342.87,566.98 L345.16,572.15 L345.31,572.53 L345.45,572.91 L345.58,573.3 L345.7,573.69 L345.81,574.09 L345.92,574.49 L346.01,574.9 L346.09,575.31 L346.16,575.73 L346.22,576.15 L346.28,576.58 L346.32,577.02 L346.34,577.46 L346.36,577.91Z" fill="#fff" stroke="#1a1a1a" stroke-width="1.3" />
<path d="M357.21,564.09 L357.2,564.81 L357.17,565.55 L357.12,566.29 L357.05,567.05 L356.96,567.82 L356.85,568.6 L356.71,569.39 L356.55,570.19 L356.37,571.01 L356.16,571.84 L355.92,572.68 L355.65,573.54 L355.36,574.41 L355.03,575.29 L354.68,576.18 L354.29,577.09 L353.86,578.01 L353.4,578.94 L352.91,579.88 L352.38,580.83 L351.8,581.79 L351.19,582.76 L350.54,583.74 L349.84,584.73 L349.1,585.72 L348.31,586.72 L347.48,587.72 L346.6,588.72 L345.68,589.72 L344.71,590.72 L343.69,591.71 L342.62,592.69 L341.51,593.67 L340.35,594.63 L339.15,595.58 L337.9,596.51 L336.61,597.42 L335.29,598.31 L333.92,599.17 L332.52,600 L331.09,600.8 L329.63,601.57 L328.15,602.3 L326.64,603 L325.12,603.65 L323.58,604.26 L322.04,604.83 L320.48,605.36 L318.93,605.84 L317.37,606.28 L315.83,606.68 L314.29,607.02 L312.76,607.33 L311.25,607.59 L309.76,607.8 L308.29,607.98 L306.84,608.11 L305.42,608.2 L304.03,608.26 L302.66,608.28 L301.33,608.26 L300.03,608.21 L298.76,608.13 L297.52,608.01 L296.32,607.87 L295.15,607.7 L294.02,607.51 L292.92,607.29 L291.85,607.05 L290.82,606.78 L289.82,606.5 L288.85,606.2 L287.92,605.88 L287.01,605.55 L286.14,605.2 L285.29,604.84 L284.48,604.46 L283.69,604.08 L282.93,603.68 L282.2,603.27 L281.5,602.85 L280.82,602.42 L280.16,601.98 L279.53,601.53 L278.92,601.08 L278.33,600.61 L277.77,600.15 L277.22,599.67 L276.7,599.18 L276.2,598.69 L275.71,598.2 L275.25,597.7 L274.8,597.19 L274.37,596.67 L273.96,596.15 L273.57,595.62 L273.19,595.09 L272.83,594.55 L272.49,594.01 L272.16,593.46 L271.85,592.9 L271.55,592.34 L271.27,591.77 L271.01,591.19 L270.76,590.61 L270.52,590.02 L270.3,589.42 L270.1,588.81 L269.91,588.2 L269.73,587.58 L269.57,586.95 L269.43,586.32 L269.3,585.67 L269.19,585.02 L269.09,584.36 L269.01,583.69 L268.95,583.01 L268.9,582.31 L268.88,581.61 L268.87,580.9 L268.88,580.18 L268.9,579.45 L268.95,578.7 L269.02,577.95 L269.11,577.18 L269.23,576.4 L269.36,575.61 L269.52,574.8 L269.71,573.98 L269.92,573.15 L270.16,572.31 L270.42,571.46 L270.72,570.59 L271.04,569.71 L271.4,568.81 L271.79,567.91 L272.21,566.99 L272.67,566.06 L273.6,564.31 L274.12,563.37 L274.68,562.43 L275.28,561.48 L275.92,560.52 L276.61,559.56 L277.33,558.59 L278.1,557.61 L278.91,556.64 L279.77,555.66 L280.68,554.68 L281.63,553.7 L282.62,552.73 L283.67,551.77 L284.75,550.81 L285.89,549.87 L287.06,548.94 L288.28,548.03 L289.54,547.14 L290.84,546.28 L292.17,545.43 L293.54,544.62 L294.94,543.84 L296.37,543.09 L297.82,542.37 L299.3,541.69 L300.79,541.05 L302.29,540.45 L303.8,539.89 L305.32,539.38 L306.84,538.9 L308.36,538.47 L309.88,538.09 L311.38,537.75 L312.88,537.45 L314.36,537.2 L315.81,536.99 L317.25,536.82 L318.67,536.69 L320.06,536.59 L321.42,536.54 L322.76,536.52 L324.06,536.54 L325.33,536.59 L326.58,536.67 L327.78,536.78 L328.96,536.92 L330.1,537.09 L331.21,537.28 L332.29,537.49 L333.33,537.73 L335.26,538.21 L336.26,538.49 L337.22,538.79 L338.16,539.11 L339.06,539.44 L339.94,539.79 L340.78,540.15 L341.6,540.53 L342.38,540.92 L343.14,541.32 L343.87,541.73 L344.58,542.15 L345.26,542.58 L345.92,543.01 L346.55,543.46 L347.16,543.92 L347.74,544.38 L348.31,544.85 L348.85,545.33 L349.37,545.81 L349.88,546.3 L350.36,546.8 L350.83,547.3 L351.27,547.81 L351.7,548.32 L352.11,548.84 L352.5,549.37 L352.88,549.9 L353.24,550.44 L353.58,550.99 L353.91,551.54 L354.22,552.09 L354.52,552.66 L354.8,553.23 L355.07,553.8 L355.32,554.39 L355.55,554.98 L355.77,555.57 L355.98,556.18 L356.17,556.79 L356.34,557.41 L356.5,558.04 L356.65,558.68 L356.78,559.32 L356.89,559.97 L356.98,560.64 L357.06,561.31 L357.13,561.99 L357.17,562.68 L357.2,563.38Z" fill="#fff" stroke="#1a1a1a" stroke-width="1.3" />
<path d="M356.7,562.01 L356.69,562.74 L356.66,563.48 L356.61,564.23 L356.54,564.99 L356.45,565.77 L356.34,566.56 L356.2,567.35 L356.04,568.17 L355.85,568.99 L355.64,569.83 L355.4,570.68 L355.13,571.54 L354.83,572.42 L354.51,573.3 L354.15,574.21 L353.75,575.12 L353.33,576.05 L352.86,576.98 L352.36,577.93 L351.83,578.9 L351.25,579.87 L350.63,580.85 L349.97,581.83 L349.27,582.83 L348.52,583.83 L347.73,584.84 L346.89,585.84 L345.66,587.25 L344.75,588.24 L343.79,589.22 L342.78,590.21 L341.72,591.18 L340.62,592.14 L339.48,593.1 L338.29,594.03 L337.06,594.95 L335.78,595.85 L334.47,596.73 L333.12,597.58 L331.74,598.41 L330.32,599.2 L328.88,599.96 L327.41,600.68 L325.92,601.37 L324.41,602.02 L322.89,602.62 L321.36,603.19 L319.83,603.71 L318.29,604.19 L316.75,604.62 L315.22,605.01 L313.7,605.35 L312.19,605.65 L310.69,605.91 L309.22,606.13 L307.76,606.3 L306.33,606.43 L304.93,606.52 L303.55,606.58 L302.2,606.59 L300.33,606.56 L299.02,606.51 L297.74,606.43 L296.5,606.31 L295.28,606.17 L294.11,606 L292.96,605.8 L291.85,605.58 L290.78,605.34 L289.73,605.07 L288.73,604.79 L287.75,604.49 L286.81,604.17 L285.89,603.83 L285.01,603.48 L284.16,603.11 L283.34,602.73 L282.55,602.34 L281.78,601.94 L281.04,601.53 L280.33,601.1 L279.64,600.67 L278.98,600.23 L278.34,599.78 L277.73,599.32 L277.14,598.85 L276.57,598.38 L276.02,597.9 L275.49,597.41 L274.99,596.92 L274.5,596.42 L274.03,595.91 L273.58,595.39 L273.15,594.88 L272.73,594.35 L272.34,593.82 L271.96,593.28 L271.59,592.74 L271.25,592.19 L270.92,591.63 L270.6,591.07 L270.3,590.5 L270.02,589.93 L269.75,589.35 L268.52,586.56 L268.28,585.96 L268.06,585.36 L267.85,584.75 L267.66,584.13 L267.48,583.51 L267.32,582.87 L267.18,582.23 L267.05,581.58 L266.94,580.92 L266.84,580.25 L266.76,579.58 L266.7,578.89 L266.65,578.19 L266.62,577.49 L266.61,576.77 L266.62,576.04 L266.65,575.3 L266.7,574.55 L266.77,573.79 L266.86,573.01 L266.98,572.22 L267.11,571.43 L267.28,570.61 L267.46,569.79 L267.68,568.95 L267.91,568.1 L268.18,567.24 L268.48,566.36 L268.81,565.47 L269.17,564.57 L270.06,562.48 L270.48,561.58 L270.93,560.67 L271.42,559.74 L271.94,558.81 L272.5,557.86 L273.1,556.91 L273.75,555.94 L274.43,554.98 L275.16,554 L275.93,553.02 L276.75,552.04 L277.61,551.05 L278.52,550.07 L279.48,549.09 L280.48,548.12 L281.52,547.15 L282.62,546.19 L283.76,545.24 L284.94,544.31 L286.16,543.4 L287.43,542.5 L288.73,541.63 L290.07,540.79 L291.45,539.97 L292.85,539.18 L294.28,538.43 L295.74,537.71 L297.22,537.03 L298.72,536.38 L300.23,535.78 L301.75,535.22 L303.28,534.7 L304.81,534.23 L306.33,533.8 L307.85,533.41 L309.37,533.07 L310.87,532.77 L312.35,532.51 L313.82,532.3 L315.26,532.13 L316.68,532 L318.08,531.91 L319.45,531.85 L320.79,531.84 L322.1,531.85 L323.38,531.9 L324.62,531.99 L325.84,532.1 L327.02,532.24 L328.17,532.4 L329.28,532.59 L330.36,532.81 L331.41,533.05 L332.42,533.3 L333.41,533.58 L334.36,533.88 L336.51,534.61 L337.42,534.95 L338.3,535.3 L339.15,535.67 L339.97,536.04 L340.77,536.44 L341.53,536.84 L342.27,537.25 L342.98,537.68 L343.67,538.11 L344.33,538.55 L344.97,539 L345.58,539.46 L346.18,539.93 L346.75,540.4 L347.29,540.88 L347.82,541.37 L348.33,541.86 L348.82,542.36 L349.29,542.87 L349.74,543.38 L350.17,543.9 L350.58,544.43 L350.98,544.96 L351.36,545.5 L351.72,546.04 L352.07,546.59 L352.4,547.15 L352.71,547.71 L353.01,548.28 L353.3,548.85 L353.56,549.43 L354.8,552.22 L355.03,552.82 L355.25,553.42 L355.46,554.03 L355.65,554.65 L355.83,555.27 L355.99,555.91 L356.14,556.55 L356.27,557.2 L356.38,557.86 L356.48,558.53 L356.56,559.2 L356.62,559.89 L356.66,560.59 L356.69,561.29Z" fill="#fff" stroke="#1a1a1a" stroke-width="1.3" />
<path d="M354.72,557.55 L354.71,558.27 L354.68,559.01 L354.63,559.76 L354.56,560.53 L354.47,561.3 L354.35,562.09 L354.22,562.89 L354.05,563.7 L353.87,564.52 L353.66,565.36 L353.42,566.21 L353.15,567.07 L352.85,567.95 L352.52,568.84 L352.16,569.74 L351.77,570.65 L351.34,571.58 L350.88,572.52 L350.38,573.47 L349.84,574.43 L349.26,575.4 L348.65,576.38 L347.99,577.37 L347.28,578.36 L346.54,579.36 L345.74,580.37 L344.9,581.38 L344.02,582.39 L343.09,583.4 L342.11,584.4 L341.08,585.4 L340,586.4 L338.61,587.61 L337.47,588.57 L336.28,589.5 L335.04,590.42 L333.77,591.32 L332.46,592.2 L331.11,593.05 L329.72,593.88 L328.31,594.67 L326.87,595.43 L325.4,596.15 L323.91,596.84 L322.4,597.49 L320.88,598.09 L319.35,598.66 L317.81,599.18 L316.28,599.66 L314.74,600.09 L313.21,600.48 L311.68,600.82 L310.18,601.12 L308.68,601.38 L307.21,601.59 L305.37,601.81 L303.91,601.95 L302.48,602.04 L301.07,602.1 L299.7,602.11 L298.35,602.1 L297.04,602.05 L295.76,601.96 L294.51,601.85 L293.3,601.7 L292.12,601.53 L290.98,601.34 L289.87,601.12 L288.79,600.87 L287.75,600.61 L286.74,600.32 L285.77,600.02 L284.82,599.7 L283.91,599.36 L283.03,599.01 L282.18,598.65 L281.36,598.27 L280.56,597.88 L279.8,597.47 L279.06,597.06 L278.35,596.64 L277.66,596.2 L277,595.76 L276.36,595.31 L275.75,594.85 L275.15,594.39 L274.58,593.91 L274.04,593.43 L273.51,592.94 L273,592.45 L272.51,591.95 L272.04,591.44 L271.59,590.93 L271.16,590.41 L270.75,589.88 L270.35,589.35 L269.97,588.81 L269.61,588.27 L269.26,587.72 L268.93,587.17 L268.62,586.6 L268.32,586.04 L268.03,585.46 L267.77,584.88 L266.31,581.57 L266.07,580.98 L265.85,580.37 L265.64,579.76 L265.45,579.15 L265.27,578.52 L265.11,577.89 L264.48,575.18 L264.35,574.54 L264.24,573.89 L264.14,573.22 L264.07,572.55 L264,571.87 L263.96,571.18 L263.93,570.48 L263.92,569.77 L263.93,569.05 L263.96,568.31 L264.01,567.57 L264.08,566.81 L264.17,566.04 L264.28,565.26 L264.42,564.47 L264.58,563.67 L264.76,562.85 L264.97,562.02 L265.21,561.18 L265.48,560.32 L265.77,559.45 L266.1,558.57 L266.45,557.68 L266.84,556.77 L267.27,555.85 L267.72,554.92 L268.22,553.98 L268.75,553.03 L269.33,552.07 L269.94,551.1 L270.59,550.12 L271.29,549.13 L272.03,548.14 L272.82,547.14 L273.65,546.14 L274.53,545.14 L275.45,544.14 L276.42,543.14 L277.44,542.15 L278.51,541.17 L279.62,540.19 L280.78,539.23 L281.98,538.28 L283.23,537.35 L284.51,536.44 L285.84,535.55 L287.21,534.69 L288.6,533.86 L290.04,533.06 L291.49,532.29 L292.98,531.56 L294.48,530.86 L296.01,530.21 L297.55,529.6 L299.09,529.03 L300.65,528.5 L302.2,528.02 L303.76,527.58 L305.3,527.18 L306.84,526.84 L308.37,526.53 L309.88,526.27 L311.37,526.06 L312.84,525.88 L314.29,525.75 L315.71,525.66 L317.1,525.6 L318.47,525.58 L319.8,525.6 L321.1,525.65 L322.37,525.73 L323.61,525.85 L324.81,525.99 L325.98,526.16 L327.11,526.35 L328.21,526.57 L329.28,526.81 L330.31,527.08 L331.31,527.36 L332.28,527.66 L333.21,527.98 L334.12,528.31 L334.99,528.66 L335.83,529.02 L336.65,529.4 L337.44,529.78 L338.19,530.18 L338.93,530.59 L339.63,531.01 L340.31,531.44 L340.97,531.88 L341.6,532.33 L342.21,532.78 L342.8,533.24 L343.36,533.71 L343.91,534.19 L344.43,534.67 L344.93,535.16 L345.42,535.66 L345.88,536.16 L346.33,536.67 L346.75,537.19 L347.17,537.71 L347.56,538.24 L349.14,540.51 L349.51,541.06 L349.85,541.61 L350.19,542.16 L350.5,542.72 L350.8,543.29 L351.08,543.87 L351.35,544.45 L352.81,547.76 L353.05,548.35 L353.27,548.95 L353.48,549.56 L353.67,550.18 L353.85,550.81 L354.01,551.44 L354.15,552.08 L354.28,552.73 L354.39,553.39 L354.49,554.06 L354.57,554.74 L354.63,555.42 L354.68,556.12 L354.71,556.83Z" fill="#fff" stroke="#1a1a1a" stroke-width="1.3" />
<path d="M346.94,547.21 L347.7,549.16 L348.27,551.18 L348.64,553.26 L348.83,555.4 L348.82,557.58 L348.63,559.79 L348.23,562.02 L347.65,564.25 L346.89,566.49 L345.93,568.72 L344.8,570.92 L343.5,573.09 L342.03,575.21 L340.4,577.28 L338.62,579.28 L336.69,581.21 L334.64,583.06 L332.45,584.81 L330.16,586.46 L327.76,588 L325.27,589.42 L322.71,590.72 L320.08,591.89 L317.39,592.92 L314.67,593.81 L311.92,594.56 L309.15,595.16 L306.39,595.6 L303.64,595.89 L300.92,596.03 L298.24,596.01 L295.61,595.83 L293.05,595.5 L290.57,595.01 L288.18,594.37 L285.89,593.59 L283.71,592.66 L281.66,591.59 L279.75,590.38 L277.98,589.05 L276.36,587.59 L274.9,586.02 L273.6,584.34 L272.48,582.57 L271.54,580.7 L270.79,578.75 L270.22,576.73 L269.84,574.64 L269.65,572.51 L269.66,570.33 L269.86,568.12 L270.25,565.89 L270.83,563.65 L271.6,561.41 L272.55,559.19 L273.68,556.99 L274.98,554.82 L276.45,552.69 L278.08,550.63 L279.86,548.62 L281.79,546.69 L283.85,544.85 L286.03,543.1 L288.33,541.45 L290.72,539.91 L293.21,538.48 L295.78,537.18 L298.41,536.02 L301.09,534.98 L303.82,534.09 L306.57,533.35 L309.33,532.75 L312.09,532.3 L314.84,532.01 L317.56,531.88 L320.24,531.9 L322.87,532.08 L325.43,532.41 L327.91,532.89 L330.31,533.53 L332.59,534.32 L334.77,535.25 L336.82,536.32 L338.74,537.52 L340.51,538.86 L342.13,540.31 L343.59,541.88 L344.88,543.56 L346,545.34 L346.94,547.21" fill="none" stroke="#1a1a1a" stroke-width="1.3" />
<path d="M346.96,535.15 L346.95,535.91 L346.92,536.69 L346.87,537.47 L346.79,538.27 L346.7,539.08 L346.58,539.9 L346.43,540.74 L346.26,541.58 L346.07,542.45 L345.85,543.32 L344.53,548.08 L344.26,548.93 L343.97,549.79 L343.65,550.66 L343.3,551.54 L342.91,552.44 L342.49,553.35 L342.04,554.27 L341.55,555.2 L341.02,556.14 L340.46,557.09 L339.85,558.05 L337.52,561.6 L336.89,562.49 L336.22,563.39 L335.52,564.29 L334.76,565.19 L333.97,566.09 L333.14,567 L332.26,567.9 L331.34,568.79 L330.38,569.68 L329.38,570.56 L328.33,571.43 L327.25,572.28 L326.12,573.12 L324.96,573.94 L323.77,574.74 L322.53,575.52 L321.27,576.27 L319.98,576.99 L318.67,577.69 L317.33,578.35 L315.97,578.97 L314.59,579.56 L313.21,580.12 L311.81,580.63 L310.41,581.11 L309.01,581.54 L307.6,581.94 L306.21,582.29 L304.82,582.61 L303.44,582.88 L302.08,583.12 L300.73,583.31 L299.41,583.47 L298.1,583.59 L296.82,583.67 L295.56,583.72 L294.33,583.74 L293.13,583.72 L291.95,583.68 L290.81,583.6 L289.69,583.5 L288.61,583.37 L287.56,583.22 L283.3,582.53 L282.21,582.31 L281.16,582.07 L280.13,581.81 L279.15,581.53 L278.19,581.24 L277.26,580.92 L276.37,580.59 L275.5,580.25 L274.67,579.89 L273.86,579.52 L269.45,577.31 L268.65,576.89 L267.87,576.46 L267.13,576.01 L266.41,575.56 L265.72,575.1 L265.05,574.63 L264.41,574.15 L263.79,573.66 L263.2,573.17 L262.62,572.66 L262.07,572.15 L261.54,571.64 L258.09,568.07 L257.59,567.52 L257.1,566.97 L256.64,566.41 L256.19,565.84 L255.76,565.27 L255.35,564.69 L254.96,564.1 L254.59,563.51 L254.23,562.91 L253.89,562.31 L248.22,551.62 L247.91,550.99 L242.08,538.39 L241.81,537.75 L241.54,537.09 L241.3,536.43 L241.07,535.76 L240.86,535.08 L240.67,534.39 L240.49,533.7 L240.33,532.99 L240.19,532.28 L240.06,531.55 L239.96,530.82 L239.87,530.07 L239.8,529.32 L239.75,528.55 L239.72,527.78 L239.71,526.99 L239.72,526.19 L239.75,525.37 L239.81,524.55 L239.88,523.71 L239.98,522.86 L240.11,521.99 L240.26,521.11 L240.44,520.22 L240.64,519.32 L240.88,518.4 L241.14,517.46 L241.44,516.51 L241.76,515.55 L242.12,514.57 L242.52,513.58 L242.95,512.58 L243.42,511.56 L243.93,510.53 L244.48,509.49 L245.07,508.43 L245.7,507.36 L246.38,506.29 L247.11,505.2 L247.88,504.11 L248.7,503.01 L249.57,501.9 L250.5,500.79 L251.47,499.68 L252.5,498.57 L253.57,497.47 L254.7,496.37 L255.88,495.28 L257.12,494.19 L258.4,493.13 L259.73,492.08 L261.11,491.04 L262.54,490.04 L264.01,489.05 L265.53,488.1 L267.08,487.18 L268.66,486.29 L270.28,485.44 L271.93,484.62 L273.6,483.85 L275.29,483.13 L276.99,482.45 L278.71,481.82 L280.43,481.23 L282.15,480.7 L283.87,480.21 L285.59,479.77 L287.3,479.39 L288.99,479.05 L290.66,478.76 L292.32,478.52 L293.95,478.33 L295.55,478.18 L297.13,478.08 L298.67,478.02 L300.19,478 L301.66,478.02 L303.11,478.07 L304.51,478.17 L305.88,478.29 L307.22,478.45 L308.51,478.64 L309.77,478.85 L310.99,479.1 L312.17,479.36 L313.32,479.65 L314.42,479.97 L315.5,480.3 L316.53,480.65 L317.54,481.02 L318.5,481.41 L319.44,481.81 L320.34,482.23 L321.22,482.66 L322.06,483.1 L322.87,483.55 L323.65,484.02 L324.41,484.5 L325.13,484.98 L325.83,485.48 L326.51,485.98 L327.16,486.49 L327.79,487.01 L328.39,487.54 L328.97,488.08 L329.53,488.62 L330.06,489.17 L330.58,489.73 L331.07,490.29 L331.55,490.86 L332,491.44 L332.44,492.03 L332.86,492.62 L333.26,493.21 L333.64,493.82 L334,494.43 L334.35,495.05 L334.68,495.67 L334.99,496.3 L335.28,496.94 L340.72,509.71 L340.98,510.36 L345.11,521.74 L345.34,522.39 L345.54,523.06 L345.73,523.73 L345.91,524.42 L346.06,525.11 L346.2,525.81 L346.32,526.52 L346.43,527.24 L346.51,527.97 L346.58,528.71 L346.92,533.66 L346.95,534.4Z" fill="#fff" stroke="#1a1a1a" stroke-width="1.3" />
<path d="M358.24,493.97 L358.22,495.18 L358.18,496.4 L358.09,497.65 L357.98,498.91 L357.83,500.2 L357.64,501.5 L357.41,502.83 L357.14,504.17 L356.83,505.54 L356.48,506.92 L356.08,508.33 L355.64,509.76 L355.15,511.21 L354.6,512.69 L353.76,514.79 L353.11,516.3 L352.41,517.82 L351.65,519.36 L350.83,520.92 L349.94,522.5 L348.99,524.1 L347.97,525.71 L346.89,527.34 L345.73,528.97 L344.5,530.62 L343.2,532.27 L341.82,533.93 L340.36,535.59 L338.83,537.25 L337.22,538.9 L335.53,540.55 L333.76,542.18 L331.92,543.8 L330,545.4 L328,546.97 L325.93,548.51 L323.8,550.02 L321.6,551.49 L319.33,552.92 L317.01,554.3 L314.64,555.63 L312.22,556.9 L309.76,558.12 L307.26,559.27 L304.73,560.36 L302.18,561.37 L299.62,562.32 L297.04,563.19 L294.46,564 L291.88,564.72 L289.32,565.38 L286.76,565.95 L284.23,566.46 L281.73,566.89 L279.25,567.25 L276.81,567.53 L274.41,567.76 L272.05,567.91 L269.74,568 L267.48,568.03 L265.27,568 L263.11,567.92 L261.01,567.78 L258.96,567.59 L256.96,567.36 L255.03,567.07 L253.14,566.75 L251.32,566.39 L249.55,565.99 L247.84,565.55 L246.18,565.09 L244.57,564.59 L243.02,564.06 L240.89,563.28 L239.43,562.7 L238.02,562.09 L236.66,561.46 L235.34,560.81 L234.07,560.15 L232.85,559.46 L231.67,558.76 L230.53,558.04 L229.44,557.31 L228.38,556.56 L227.36,555.8 L226.38,555.03 L225.43,554.24 L224.53,553.45 L223.65,552.64 L222.81,551.82 L222,550.99 L221.23,550.15 L220.48,549.3 L219.76,548.44 L219.08,547.57 L218.42,546.69 L217.79,545.79 L217.19,544.89 L216.61,543.98 L216.06,543.06 L215.54,542.13 L215.05,541.19 L214.58,540.24 L214.13,539.27 L212.51,535.58 L212.11,534.59 L211.74,533.59 L211.4,532.58 L211.08,531.56 L210.79,530.52 L210.53,529.47 L210.28,528.41 L210.07,527.33 L209.88,526.24 L209.72,525.13 L209.59,524.01 L209.48,522.87 L209.41,521.72 L209.36,520.54 L209.35,519.35 L209.36,518.15 L209.41,516.92 L209.49,515.68 L209.61,514.41 L209.76,513.13 L209.95,511.83 L210.18,510.5 L210.57,508.55 L210.87,507.19 L211.22,505.81 L211.62,504.41 L212.06,502.99 L212.55,501.55 L213.09,500.08 L213.68,498.59 L214.33,497.09 L215.04,495.56 L215.8,494.01 L217.06,491.64 L217.93,490.07 L218.87,488.49 L219.88,486.9 L220.95,485.29 L222.1,483.67 L223.32,482.04 L224.61,480.41 L225.97,478.77 L227.41,477.12 L228.93,475.48 L230.52,473.85 L232.2,472.22 L233.94,470.6 L235.77,469 L237.67,467.42 L239.64,465.86 L241.69,464.34 L243.8,462.84 L245.98,461.39 L248.22,459.97 L250.52,458.61 L252.86,457.29 L255.26,456.03 L257.7,454.83 L260.17,453.69 L262.67,452.62 L265.19,451.61 L267.73,450.67 L270.28,449.81 L272.83,449.02 L275.38,448.3 L277.92,447.65 L280.45,447.08 L282.96,446.58 L285.43,446.16 L287.88,445.8 L290.3,445.51 L292.67,445.3 L295,445.14 L297.29,445.05 L299.53,445.02 L301.72,445.05 L303.85,445.14 L305.94,445.27 L307.97,445.46 L309.94,445.69 L311.85,445.97 L313.72,446.29 L315.52,446.65 L317.27,447.04 L319.88,447.7 L321.54,448.17 L323.15,448.67 L324.71,449.2 L326.21,449.75 L327.67,450.33 L329.07,450.93 L330.42,451.56 L331.73,452.2 L332.99,452.87 L334.21,453.55 L335.92,454.57 L337.06,455.28 L338.15,456.02 L339.21,456.76 L340.23,457.52 L341.21,458.3 L342.15,459.08 L343.06,459.88 L343.94,460.69 L344.78,461.51 L345.59,462.34 L346.36,463.18 L347.11,464.03 L347.82,464.89 L348.51,465.76 L349.17,466.64 L349.8,467.53 L350.4,468.43 L350.97,469.34 L351.52,470.26 L352.04,471.2 L352.54,472.14 L353.01,473.09 L353.45,474.05 L355.08,477.75 L355.47,478.73 L355.84,479.73 L356.19,480.74 L356.5,481.77 L356.8,482.8 L357.06,483.85 L357.3,484.92 L357.52,485.99 L357.71,487.09 L357.87,488.19 L358,489.32 L358.1,490.45 L358.18,491.61 L358.22,492.78Z" fill="#fff" stroke="#1a1a1a" stroke-width="1.3" />
<path d="M355.37,479.4 L356.25,483.23 L356.78,487.16 L356.95,491.19 L356.76,495.28 L356.2,499.42 L355.3,503.59 L354.04,507.76 L352.44,511.92 L350.5,516.05 L348.23,520.13 L345.64,524.13 L342.75,528.04 L339.57,531.84 L336.11,535.5 L332.39,539.02 L328.44,542.38 L324.26,545.55 L319.88,548.53 L315.33,551.29 L310.62,553.83 L305.77,556.13 L300.81,558.18 L295.77,559.98 L290.66,561.51 L285.52,562.76 L280.36,563.73 L275.22,564.42 L270.12,564.82 L265.08,564.92 L260.13,564.74 L255.29,564.26 L250.59,563.5 L246.04,562.45 L241.68,561.12 L237.51,559.52 L233.57,557.66 L229.87,555.53 L226.43,553.17 L223.27,550.57 L220.4,547.74 L217.83,544.71 L215.58,541.49" fill="none" stroke="#1a1a1a" stroke-width="1.3" />
<path d="M355.33,478.73 L356.39,482.5 L357.09,486.39 L357.44,490.37 L357.43,494.43 L357.06,498.55 L356.33,502.7 L355.25,506.88 L353.82,511.05 L352.04,515.2 L349.94,519.3 L347.51,523.34 L344.77,527.3 L341.73,531.16 L338.41,534.89 L334.82,538.49 L330.98,541.93 L326.91,545.19 L322.63,548.27 L318.16,551.14 L313.52,553.79 L308.74,556.22 L303.84,558.39 L298.83,560.32 L293.75,561.98 L288.63,563.37 L283.48,564.49 L278.33,565.31 L273.2,565.86 L268.13,566.11 L263.13,566.07 L258.23,565.74 L253.46,565.12 L248.83,564.21 L244.37,563.02 L240.1,561.56 L236.05,559.83 L232.23,557.83 L228.65,555.58 L225.35,553.1 L222.33,550.39 L219.61,547.46 L217.2,544.33 L215.11,541.01" fill="none" stroke="#1a1a1a" stroke-width="1.3" />
<path d="M355,489.95 L354.98,491.14 L354.94,492.34 L354.86,493.57 L354.74,494.81 L354.59,496.07 L354.41,497.35 L354.18,498.65 L353.92,499.97 L353.62,501.31 L353.27,502.67 L352.88,504.05 L352.44,505.46 L351.96,506.88 L351.43,508.33 L350.84,509.8 L350.2,511.28 L349.51,512.79 L348.75,514.32 L347.94,515.86 L347.07,517.43 L346.13,519.01 L345.12,520.6 L344.05,522.21 L342.9,523.83 L341.68,525.46 L340.39,527.09 L339.03,528.73 L337.59,530.38 L336.07,532.02 L334.48,533.65 L332.8,535.28 L331.06,536.9 L329.23,538.5 L327.33,540.08 L325.36,541.64 L323.31,543.16 L321.2,544.66 L319.02,546.11 L316.78,547.53 L314.48,548.89 L312.14,550.21 L309.74,551.47 L307.3,552.67 L304.83,553.81 L302.33,554.88 L299.81,555.89 L297.27,556.83 L294.72,557.69 L292.17,558.48 L289.62,559.2 L287.08,559.85 L284.55,560.42 L282.04,560.92 L279.57,561.34 L277.12,561.7 L274.7,561.99 L272.33,562.2 L270,562.36 L267.71,562.45 L265.47,562.48 L263.28,562.45 L261.15,562.36 L259.06,562.23 L257.03,562.04 L255.06,561.81 L253.15,561.53 L251.28,561.21 L249.48,560.85 L247.73,560.46 L246.03,560.02 L244.39,559.56 L242.8,559.07 L241.27,558.55 L239.78,558 L238.35,557.43 L236.97,556.83 L235.63,556.22 L234.34,555.58 L233.09,554.93 L231.89,554.25 L230.73,553.56 L229.61,552.86 L228.54,552.14 L227.5,551.41 L226.5,550.66 L225.54,549.9 L224.61,549.13 L223.72,548.35 L222.86,547.55 L222.03,546.75 L221.24,545.93 L220.48,545.11 L219.74,544.27 L219.04,543.43 L218.37,542.57 L217.72,541.71 L217.1,540.83 L216.51,539.95 L215.95,539.06 L215.41,538.15 L214.9,537.24 L214.41,536.31 L213.95,535.38 L213.51,534.43 L213.1,533.47 L212.72,532.5 L212.36,531.52 L212.02,530.53 L211.71,529.53 L211.42,528.51 L211.16,527.48 L210.92,526.44 L210.71,525.38 L210.53,524.31 L210.37,523.22 L210.24,522.12 L210.14,521 L210.06,519.86 L210.02,518.71 L210,517.55 L210.02,516.36 L210.06,515.16 L210.14,513.93 L210.26,512.69 L210.41,511.43 L210.59,510.15 L210.82,508.85 L211.08,507.53 L211.38,506.19 L211.73,504.83 L212.12,503.45 L212.56,502.04 L213.04,500.62 L213.57,499.17 L214.16,497.7 L214.8,496.22 L215.49,494.71 L216.25,493.18 L217.06,491.64 L217.93,490.07 L218.87,488.49 L219.88,486.9 L220.95,485.29 L222.1,483.67 L223.32,482.04 L224.61,480.41 L225.97,478.77 L227.41,477.12 L228.93,475.48 L230.52,473.85 L232.2,472.22 L233.94,470.6 L235.77,469 L237.67,467.42 L239.64,465.86 L241.69,464.34 L243.8,462.84 L245.98,461.39 L248.22,459.97 L250.52,458.61 L252.86,457.29 L255.26,456.03 L257.7,454.83 L260.17,453.69 L262.67,452.62 L265.19,451.61 L267.73,450.67 L270.28,449.81 L272.83,449.02 L275.38,448.3 L277.92,447.65 L280.45,447.08 L282.96,446.58 L285.43,446.16 L287.88,445.8 L290.3,445.51 L292.67,445.3 L295,445.14 L297.29,445.05 L299.53,445.02 L301.72,445.05 L303.85,445.14 L305.94,445.27 L307.97,445.46 L309.94,445.69 L311.85,445.97 L313.72,446.29 L315.52,446.65 L317.27,447.04 L318.97,447.48 L320.61,447.94 L322.2,448.43 L323.73,448.95 L325.22,449.5 L326.65,450.07 L328.03,450.67 L329.37,451.28 L330.66,451.92 L331.91,452.57 L333.11,453.25 L334.27,453.94 L335.39,454.64 L336.46,455.36 L337.5,456.09 L338.5,456.84 L339.46,457.6 L340.39,458.37 L341.28,459.15 L342.14,459.95 L342.97,460.75 L343.76,461.57 L344.52,462.39 L345.26,463.23 L345.96,464.07 L346.63,464.93 L347.28,465.79 L347.9,466.67 L348.49,467.55 L349.05,468.44 L349.59,469.35 L350.1,470.26 L350.59,471.19 L351.05,472.12 L351.49,473.07 L351.9,474.03 L352.28,475 L352.64,475.98 L352.98,476.97 L353.29,477.97 L353.58,478.99 L353.84,480.02 L354.08,481.06 L354.29,482.12 L354.47,483.19 L354.63,484.28 L354.76,485.38 L354.86,486.5 L354.94,487.64 L354.98,488.79Z" fill="#fff" stroke="#1a1a1a" stroke-width="1.3" />
<line x1="158.0" y1="278.8" x2="158.0" y2="411.2" stroke="#111" stroke-width="1.3"/><polygon points="158.0,273.8 155.0,285.2 161.0,285.2" fill="#111"/><polygon points="158.0,416.2 155.0,404.8 161.0,404.8" fill="#111"/><line x1="261.8" y1="689.5" x2="376.9" y2="755.8" stroke="#111" stroke-width="1.3"/><polygon points="257.5,687.0 266.0,695.3 269.0,690.1" fill="#111"/><polygon points="381.2,758.2 369.8,755.1 372.8,749.9" fill="#111"/><line x1="630.4" y1="710.1" x2="739.6" y2="634.1" stroke="#111" stroke-width="1.3"/><polygon points="626.2,713.0 637.4,708.9 634.0,704.0" fill="#111"/><polygon points="743.8,631.2 736.0,640.3 732.6,635.4" fill="#111"/>
<text transform="translate(12.2,357.5) scale(1.0,1)" class="dig">14</text><text transform="translate(81,357.5) scale(1.17,1)" class="unit">см</text><text transform="translate(213,770) scale(1.0,1)" class="dig">7</text><text transform="translate(254,770) scale(1.17,1)" class="unit">см</text><text transform="translate(692.3,719.5) scale(1.2,1)" class="dig">8</text><text transform="translate(733.5,719.5) scale(1.17,1)" class="unit">см</text>
<defs><filter id="sh" x="-5%" y="-50%" width="110%" height="200%">
<feGaussianBlur in="SourceAlpha" stdDeviation="0.9" result="b"/>
<feOffset in="b" dx="0.2" dy="2.1" result="o"/>
<feComposite in="o" in2="SourceAlpha" operator="out" result="s"/>
<feFlood flood-color="#9a9a9a" flood-opacity="0.6"/><feComposite in2="s" operator="in"/>
</filter></defs>
<g transform="translate(222.1,608.2) rotate(-45)" class="wm" text-anchor="middle">
<text fill="#fff" fill-opacity="0.5" stroke="#fff" stroke-opacity="0.5" stroke-width="1.5"><tspan x="29.0" y="-1.5">w</tspan><tspan x="87.1" y="-1.5">w</tspan><tspan x="145.2" y="-1.5">w</tspan><tspan x="187.2" y="-1.5">.</tspan><tspan x="221.4" y="-1.5">a</tspan><tspan x="264.9" y="-1.5">q</tspan><tspan x="309.4" y="-1.5">u</tspan><tspan x="353.2" y="-1.5">a</tspan><tspan x="397.0" y="-1.5">n</tspan><tspan x="433.5" y="-1.5">t</tspan><tspan x="460.4" y="-1.5">.</tspan><tspan x="488.4" y="-1.5">r</tspan><tspan x="526.0" y="-1.5">u</tspan></text>
<text fill="#000" stroke="#000" stroke-width="1.5" filter="url(#sh)"><tspan x="29.0" y="-1.5">w</tspan><tspan x="87.1" y="-1.5">w</tspan><tspan x="145.2" y="-1.5">w</tspan><tspan x="187.2" y="-1.5">.</tspan><tspan x="221.4" y="-1.5">a</tspan><tspan x="264.9" y="-1.5">q</tspan><tspan x="309.4" y="-1.5">u</tspan><tspan x="353.2" y="-1.5">a</tspan><tspan x="397.0" y="-1.5">n</tspan><tspan x="433.5" y="-1.5">t</tspan><tspan x="460.4" y="-1.5">.</tspan><tspan x="488.4" y="-1.5">r</tspan><tspan x="526.0" y="-1.5">u</tspan></text>
</g>
</svg>
</body></html>
